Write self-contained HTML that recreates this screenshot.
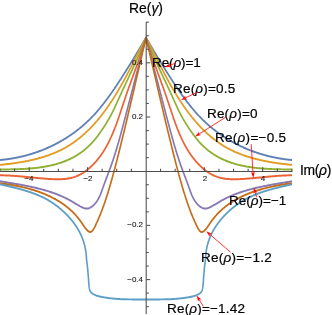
<!DOCTYPE html>
<html><head><meta charset="utf-8"><style>
html,body{margin:0;padding:0;background:#fff;}
body{width:332px;height:315px;position:relative;overflow:hidden;font-family:"Liberation Sans",sans-serif;}
svg{position:absolute;left:0;top:0;}
.lb,.tk,.ax{will-change:transform;}
.lb{position:absolute;font-size:13.5px;line-height:13.5px;color:#000;-webkit-text-stroke:0.2px #000;white-space:nowrap;}
.tk{position:absolute;font-size:8.0px;line-height:8.0px;color:#1c1c1c;-webkit-text-stroke:0.12px #1c1c1c;white-space:nowrap;}
.ax{-webkit-text-stroke:0.2px #000;position:absolute;font-size:13.9px;line-height:13.9px;color:#000;white-space:nowrap;}
</style></head><body>
<svg width="332" height="315" viewBox="0 0 332 315">
<g fill="none" stroke-width="1.62" stroke-linejoin="round" stroke-linecap="butt" transform="scale(1,1.2)">
<path d="M-0.00,133.33 L0.67,133.28 L1.34,133.23 L2.01,133.18 L2.68,133.12 L3.35,133.06 L4.02,133.00 L4.69,132.94 L5.36,132.87 L6.03,132.80 L6.70,132.73 L7.36,132.66 L8.03,132.58 L8.70,132.50 L9.36,132.42 L10.03,132.34 L10.69,132.25 L11.36,132.17 L12.02,132.07 L12.68,131.98 L13.34,131.88 L14.01,131.79 L14.67,131.69 L15.33,131.58 L15.99,131.48 L16.64,131.37 L17.30,131.26 L17.96,131.14 L18.62,131.03 L19.27,130.91 L19.93,130.79 L20.58,130.67 L21.24,130.54 L21.89,130.41 L22.54,130.28 L23.19,130.15 L23.84,130.02 L24.49,129.88 L25.14,129.74 L25.79,129.60 L26.44,129.45 L27.09,129.30 L27.73,129.16 L28.38,129.00 L29.02,128.85 L29.66,128.69 L30.30,128.53 L30.94,128.37 L31.58,128.21 L32.22,128.04 L32.86,127.87 L33.50,127.70 L34.14,127.53 L34.77,127.35 L35.40,127.18 L36.04,127.00 L36.67,126.81 L37.30,126.63 L37.93,126.44 L38.56,126.25 L39.19,126.06 L39.81,125.86 L40.44,125.67 L41.06,125.47 L41.68,125.27 L42.31,125.06 L42.93,124.86 L43.55,124.65 L44.16,124.44 L44.78,124.23 L45.40,124.01 L46.01,123.79 L46.63,123.57 L47.24,123.35 L47.85,123.13 L48.46,122.90 L49.07,122.67 L49.67,122.44 L50.28,122.20 L50.88,121.97 L51.49,121.73 L52.09,121.49 L52.69,121.25 L53.29,121.00 L53.88,120.75 L54.48,120.50 L55.07,120.25 L55.67,120.00 L56.26,119.74 L56.85,119.48 L57.44,119.22 L58.02,118.96 L58.61,118.69 L59.19,118.43 L59.78,118.16 L60.36,117.88 L60.94,117.61 L61.51,117.33 L62.09,117.06 L62.67,116.77 L63.24,116.49 L63.81,116.21 L64.38,115.92 L64.95,115.63 L65.51,115.34 L66.08,115.04 L66.64,114.74 L67.20,114.45 L67.76,114.15 L68.32,113.84 L68.88,113.54 L69.43,113.23 L69.99,112.92 L70.54,112.61 L71.09,112.29 L71.63,111.98 L72.18,111.66 L72.72,111.34 L73.27,111.02 L73.81,110.69 L74.34,110.36 L74.88,110.04 L75.42,109.70 L75.95,109.37 L76.48,109.04 L77.01,108.70 L77.54,108.36 L78.06,108.02 L78.58,107.67 L79.11,107.33 L79.62,106.98 L80.14,106.63 L80.66,106.27 L81.17,105.92 L81.68,105.56 L82.19,105.20 L82.70,104.84 L83.20,104.48 L83.71,104.11 L84.21,103.75 L84.71,103.38 L85.20,103.00 L85.70,102.63 L86.19,102.26 L86.68,101.88 L87.17,101.50 L87.65,101.12 L88.14,100.73 L88.62,100.35 L89.10,99.96 L89.58,99.57 L90.05,99.17 L90.52,98.78 L90.99,98.38 L91.46,97.98 L91.93,97.58 L92.39,97.18 L92.85,96.78 L93.31,96.37 L93.77,95.96 L94.22,95.55 L94.68,95.14 L95.13,94.73 L95.57,94.31 L96.02,93.89 L96.47,93.48 L96.91,93.06 L97.35,92.63 L97.79,92.21 L98.22,91.79 L98.66,91.36 L99.09,90.93 L99.52,90.50 L99.95,90.07 L100.38,89.64 L100.80,89.21 L101.23,88.78 L101.65,88.34 L102.07,87.91 L102.49,87.47 L102.90,87.03 L103.32,86.59 L103.73,86.15 L104.14,85.71 L104.55,85.27 L104.96,84.83 L105.37,84.38 L105.77,83.94 L106.18,83.49 L106.58,83.04 L106.98,82.60 L107.38,82.15 L107.78,81.70 L108.17,81.25 L108.57,80.80 L108.96,80.35 L109.35,79.90 L109.74,79.44 L110.13,78.99 L110.52,78.54 L110.90,78.08 L111.29,77.63 L111.67,77.17 L112.06,76.71 L112.44,76.26 L112.82,75.80 L113.20,75.34 L113.58,74.88 L113.95,74.42 L114.33,73.97 L114.70,73.50 L115.08,73.04 L115.45,72.58 L115.82,72.12 L116.19,71.66 L116.56,71.20 L116.93,70.73 L117.30,70.27 L117.67,69.81 L118.04,69.34 L118.40,68.88 L118.77,68.41 L119.13,67.95 L119.50,67.48 L119.86,67.02 L120.22,66.55 L120.58,66.08 L120.95,65.62 L121.31,65.15 L121.67,64.68 L122.03,64.22 L122.39,63.75 L122.74,63.28 L123.10,62.81 L123.46,62.34 L123.82,61.87 L124.17,61.40 L124.53,60.94 L124.89,60.47 L125.24,60.00 L125.60,59.53 L125.95,59.06 L126.30,58.59 L126.66,58.11 L127.01,57.64 L127.36,57.17 L127.72,56.70 L128.07,56.23 L128.42,55.76 L128.77,55.29 L129.12,54.81 L129.47,54.34 L129.82,53.87 L130.17,53.39 L130.52,52.92 L130.87,52.45 L131.22,51.97 L131.56,51.50 L131.91,51.03 L132.26,50.55 L132.61,50.08 L132.95,49.60 L133.30,49.13 L133.65,48.65 L133.99,48.18 L134.34,47.70 L134.69,47.22 L135.03,46.75 L135.38,46.27 L135.72,45.80 L136.07,45.32 L136.41,44.84 L136.75,44.37 L137.10,43.89 L137.44,43.41 L137.79,42.93 L138.13,42.46 L138.47,41.98 L138.82,41.50 L139.16,41.02 L139.50,40.54 L139.85,40.06 L140.19,39.59 L140.53,39.11 L140.87,38.63 L141.21,38.15 L141.56,37.67 L141.90,37.19 L142.24,36.71 L142.58,36.23 L142.93,35.75 L143.27,35.27 L143.61,34.79 L143.95,34.31 L144.29,33.82 L144.63,33.34 L144.98,32.86 L145.32,32.38 L145.66,31.90 L146.00,31.42 L146.34,31.90 L146.68,32.38 L147.02,32.86 L147.37,33.34 L147.71,33.82 L148.05,34.31 L148.39,34.79 L148.73,35.27 L149.07,35.75 L149.42,36.23 L149.76,36.71 L150.10,37.19 L150.44,37.67 L150.79,38.15 L151.13,38.63 L151.47,39.11 L151.81,39.59 L152.15,40.06 L152.50,40.54 L152.84,41.02 L153.18,41.50 L153.53,41.98 L153.87,42.46 L154.21,42.93 L154.56,43.41 L154.90,43.89 L155.25,44.37 L155.59,44.84 L155.93,45.32 L156.28,45.80 L156.62,46.27 L156.97,46.75 L157.31,47.22 L157.66,47.70 L158.01,48.18 L158.35,48.65 L158.70,49.13 L159.05,49.60 L159.39,50.08 L159.74,50.55 L160.09,51.03 L160.44,51.50 L160.78,51.97 L161.13,52.45 L161.48,52.92 L161.83,53.39 L162.18,53.87 L162.53,54.34 L162.88,54.81 L163.23,55.29 L163.58,55.76 L163.93,56.23 L164.28,56.70 L164.64,57.17 L164.99,57.64 L165.34,58.11 L165.70,58.59 L166.05,59.06 L166.40,59.53 L166.76,60.00 L167.11,60.47 L167.47,60.94 L167.83,61.40 L168.18,61.87 L168.54,62.34 L168.90,62.81 L169.26,63.28 L169.61,63.75 L169.97,64.22 L170.33,64.68 L170.69,65.15 L171.05,65.62 L171.42,66.08 L171.78,66.55 L172.14,67.02 L172.50,67.48 L172.87,67.95 L173.23,68.41 L173.60,68.88 L173.96,69.34 L174.33,69.81 L174.70,70.27 L175.07,70.73 L175.44,71.20 L175.81,71.66 L176.18,72.12 L176.55,72.58 L176.92,73.04 L177.30,73.50 L177.67,73.97 L178.05,74.42 L178.42,74.88 L178.80,75.34 L179.18,75.80 L179.56,76.26 L179.94,76.71 L180.33,77.17 L180.71,77.63 L181.10,78.08 L181.48,78.54 L181.87,78.99 L182.26,79.44 L182.65,79.90 L183.04,80.35 L183.43,80.80 L183.83,81.25 L184.22,81.70 L184.62,82.15 L185.02,82.60 L185.42,83.04 L185.82,83.49 L186.23,83.94 L186.63,84.38 L187.04,84.83 L187.45,85.27 L187.86,85.71 L188.27,86.15 L188.68,86.59 L189.10,87.03 L189.51,87.47 L189.93,87.91 L190.35,88.34 L190.77,88.78 L191.20,89.21 L191.62,89.64 L192.05,90.07 L192.48,90.50 L192.91,90.93 L193.34,91.36 L193.78,91.79 L194.21,92.21 L194.65,92.63 L195.09,93.06 L195.53,93.48 L195.98,93.89 L196.43,94.31 L196.87,94.73 L197.32,95.14 L197.78,95.55 L198.23,95.96 L198.69,96.37 L199.15,96.78 L199.61,97.18 L200.07,97.58 L200.54,97.98 L201.01,98.38 L201.48,98.78 L201.95,99.17 L202.42,99.57 L202.90,99.96 L203.38,100.35 L203.86,100.73 L204.35,101.12 L204.83,101.50 L205.32,101.88 L205.81,102.26 L206.30,102.63 L206.80,103.00 L207.29,103.38 L207.79,103.75 L208.29,104.11 L208.80,104.48 L209.30,104.84 L209.81,105.20 L210.32,105.56 L210.83,105.92 L211.34,106.27 L211.86,106.63 L212.38,106.98 L212.89,107.33 L213.42,107.67 L213.94,108.02 L214.46,108.36 L214.99,108.70 L215.52,109.04 L216.05,109.37 L216.58,109.70 L217.12,110.04 L217.66,110.36 L218.19,110.69 L218.73,111.02 L219.28,111.34 L219.82,111.66 L220.37,111.98 L220.91,112.29 L221.46,112.61 L222.01,112.92 L222.57,113.23 L223.12,113.54 L223.68,113.84 L224.24,114.15 L224.80,114.45 L225.36,114.74 L225.92,115.04 L226.49,115.34 L227.05,115.63 L227.62,115.92 L228.19,116.21 L228.76,116.49 L229.33,116.77 L229.91,117.06 L230.49,117.33 L231.06,117.61 L231.64,117.88 L232.22,118.16 L232.81,118.43 L233.39,118.69 L233.98,118.96 L234.56,119.22 L235.15,119.48 L235.74,119.74 L236.33,120.00 L236.93,120.25 L237.52,120.50 L238.12,120.75 L238.71,121.00 L239.31,121.25 L239.91,121.49 L240.51,121.73 L241.12,121.97 L241.72,122.20 L242.33,122.44 L242.93,122.67 L243.54,122.90 L244.15,123.13 L244.76,123.35 L245.37,123.57 L245.99,123.79 L246.60,124.01 L247.22,124.23 L247.84,124.44 L248.45,124.65 L249.07,124.86 L249.69,125.06 L250.32,125.27 L250.94,125.47 L251.56,125.67 L252.19,125.86 L252.81,126.06 L253.44,126.25 L254.07,126.44 L254.70,126.63 L255.33,126.81 L255.96,127.00 L256.60,127.18 L257.23,127.35 L257.86,127.53 L258.50,127.70 L259.14,127.87 L259.78,128.04 L260.42,128.21 L261.06,128.37 L261.70,128.53 L262.34,128.69 L262.98,128.85 L263.62,129.00 L264.27,129.16 L264.91,129.30 L265.56,129.45 L266.21,129.60 L266.86,129.74 L267.51,129.88 L268.16,130.02 L268.81,130.15 L269.46,130.28 L270.11,130.41 L270.76,130.54 L271.42,130.67 L272.07,130.79 L272.73,130.91 L273.38,131.03 L274.04,131.14 L274.70,131.26 L275.36,131.37 L276.01,131.48 L276.67,131.58 L277.33,131.69 L277.99,131.79 L278.66,131.88 L279.32,131.98 L279.98,132.07 L280.64,132.17 L281.31,132.25 L281.97,132.34 L282.64,132.42 L283.30,132.50 L283.97,132.58 L284.64,132.66 L285.30,132.73 L285.97,132.80 L286.64,132.87 L287.31,132.94 L287.98,133.00 L288.65,133.06 L289.32,133.12 L289.99,133.18 L290.66,133.23 L291.33,133.28 L292.00,133.33" stroke="#5e81b5"/>
<path d="M-0.00,137.42 L0.67,137.36 L1.35,137.30 L2.02,137.25 L2.70,137.19 L3.38,137.13 L4.05,137.07 L4.73,137.00 L5.41,136.94 L6.09,136.88 L6.77,136.81 L7.45,136.74 L8.14,136.68 L8.82,136.61 L9.50,136.54 L10.19,136.46 L10.87,136.39 L11.55,136.32 L12.24,136.24 L12.92,136.16 L13.61,136.08 L14.30,136.00 L14.98,135.92 L15.67,135.84 L16.36,135.75 L17.04,135.66 L17.73,135.58 L18.42,135.49 L19.10,135.39 L19.79,135.30 L20.48,135.20 L21.16,135.11 L21.85,135.01 L22.54,134.91 L23.22,134.81 L23.91,134.70 L24.60,134.59 L25.28,134.49 L25.97,134.38 L26.65,134.26 L27.34,134.15 L28.02,134.03 L28.71,133.91 L29.39,133.79 L30.07,133.67 L30.75,133.55 L31.44,133.42 L32.12,133.29 L32.80,133.16 L33.48,133.03 L34.16,132.89 L34.83,132.75 L35.51,132.61 L36.19,132.47 L36.86,132.32 L37.54,132.18 L38.21,132.03 L38.88,131.87 L39.56,131.72 L40.23,131.56 L40.90,131.40 L41.56,131.24 L42.23,131.07 L42.90,130.90 L43.56,130.73 L44.22,130.56 L44.89,130.38 L45.55,130.21 L46.21,130.02 L46.86,129.84 L47.52,129.65 L48.18,129.46 L48.83,129.27 L49.48,129.07 L50.13,128.87 L50.78,128.67 L51.43,128.47 L52.07,128.26 L52.72,128.05 L53.36,127.84 L54.00,127.62 L54.63,127.40 L55.27,127.17 L55.90,126.95 L56.54,126.72 L57.17,126.49 L57.80,126.25 L58.42,126.01 L59.04,125.77 L59.67,125.52 L60.29,125.27 L60.90,125.02 L61.52,124.76 L62.13,124.50 L62.74,124.24 L63.35,123.97 L63.96,123.70 L64.56,123.43 L65.16,123.15 L65.76,122.87 L66.35,122.58 L66.95,122.30 L67.54,122.00 L68.13,121.71 L68.71,121.41 L69.29,121.11 L69.88,120.80 L70.45,120.49 L71.03,120.18 L71.60,119.86 L72.17,119.55 L72.74,119.22 L73.30,118.90 L73.87,118.57 L74.43,118.24 L74.99,117.90 L75.54,117.56 L76.09,117.22 L76.64,116.88 L77.19,116.53 L77.74,116.18 L78.28,115.83 L78.82,115.48 L79.35,115.12 L79.89,114.76 L80.42,114.39 L80.95,114.03 L81.48,113.66 L82.00,113.29 L82.53,112.91 L83.05,112.54 L83.56,112.16 L84.08,111.78 L84.59,111.39 L85.10,111.01 L85.60,110.62 L86.11,110.23 L86.61,109.84 L87.11,109.44 L87.61,109.04 L88.10,108.64 L88.59,108.24 L89.08,107.84 L89.57,107.44 L90.05,107.03 L90.53,106.62 L91.01,106.21 L91.49,105.79 L91.96,105.38 L92.43,104.96 L92.90,104.54 L93.37,104.12 L93.83,103.70 L94.29,103.28 L94.75,102.85 L95.21,102.43 L95.67,102.00 L96.12,101.57 L96.57,101.13 L97.02,100.70 L97.46,100.26 L97.90,99.83 L98.34,99.39 L98.78,98.95 L99.22,98.51 L99.65,98.06 L100.09,97.62 L100.52,97.17 L100.94,96.72 L101.37,96.27 L101.79,95.82 L102.21,95.37 L102.63,94.91 L103.05,94.46 L103.47,94.00 L103.88,93.54 L104.29,93.08 L104.70,92.62 L105.11,92.16 L105.51,91.70 L105.92,91.23 L106.32,90.77 L106.72,90.30 L107.12,89.83 L107.51,89.36 L107.91,88.89 L108.30,88.42 L108.69,87.94 L109.08,87.47 L109.47,86.99 L109.86,86.51 L110.24,86.04 L110.62,85.56 L111.00,85.08 L111.38,84.59 L111.76,84.11 L112.14,83.63 L112.51,83.14 L112.88,82.66 L113.26,82.17 L113.63,81.68 L113.99,81.20 L114.36,80.71 L114.73,80.22 L115.09,79.72 L115.45,79.23 L115.81,78.74 L116.17,78.25 L116.53,77.75 L116.89,77.26 L117.25,76.76 L117.60,76.26 L117.95,75.76 L118.31,75.27 L118.66,74.77 L119.01,74.27 L119.36,73.76 L119.70,73.26 L120.05,72.76 L120.39,72.26 L120.74,71.75 L121.08,71.25 L121.42,70.75 L121.76,70.24 L122.10,69.74 L122.44,69.23 L122.78,68.72 L123.12,68.21 L123.45,67.71 L123.79,67.20 L124.12,66.69 L124.45,66.18 L124.78,65.67 L125.12,65.16 L125.45,64.65 L125.77,64.14 L126.10,63.63 L126.43,63.12 L126.76,62.60 L127.08,62.09 L127.41,61.58 L127.73,61.07 L128.06,60.55 L128.38,60.04 L128.70,59.53 L129.03,59.01 L129.35,58.50 L129.67,57.98 L129.99,57.47 L130.31,56.96 L130.63,56.44 L130.95,55.93 L131.27,55.41 L131.58,54.90 L131.90,54.38 L132.22,53.87 L132.53,53.35 L132.85,52.84 L133.16,52.32 L133.48,51.81 L133.79,51.29 L134.11,50.78 L134.42,50.26 L134.74,49.75 L135.05,49.23 L135.36,48.72 L135.68,48.20 L135.99,47.69 L136.30,47.17 L136.61,46.66 L136.93,46.15 L137.24,45.63 L137.55,45.12 L137.86,44.61 L138.17,44.09 L138.49,43.58 L138.80,43.07 L139.11,42.56 L139.42,42.05 L139.73,41.54 L140.05,41.03 L140.36,40.52 L140.67,40.01 L140.98,39.50 L141.29,38.99 L141.60,38.48 L141.92,37.97 L142.23,37.46 L142.54,36.96 L142.86,36.45 L143.17,35.94 L143.48,35.44 L143.80,34.93 L144.11,34.43 L144.42,33.93 L144.74,33.42 L145.05,32.92 L145.37,32.42 L145.68,31.92 L146.00,31.42 L146.32,31.92 L146.63,32.42 L146.95,32.92 L147.26,33.42 L147.58,33.93 L147.89,34.43 L148.20,34.93 L148.52,35.44 L148.83,35.94 L149.14,36.45 L149.46,36.96 L149.77,37.46 L150.08,37.97 L150.40,38.48 L150.71,38.99 L151.02,39.50 L151.33,40.01 L151.64,40.52 L151.95,41.03 L152.27,41.54 L152.58,42.05 L152.89,42.56 L153.20,43.07 L153.51,43.58 L153.83,44.09 L154.14,44.61 L154.45,45.12 L154.76,45.63 L155.07,46.15 L155.39,46.66 L155.70,47.17 L156.01,47.69 L156.32,48.20 L156.64,48.72 L156.95,49.23 L157.26,49.75 L157.58,50.26 L157.89,50.78 L158.21,51.29 L158.52,51.81 L158.84,52.32 L159.15,52.84 L159.47,53.35 L159.78,53.87 L160.10,54.38 L160.42,54.90 L160.73,55.41 L161.05,55.93 L161.37,56.44 L161.69,56.96 L162.01,57.47 L162.33,57.98 L162.65,58.50 L162.97,59.01 L163.30,59.53 L163.62,60.04 L163.94,60.55 L164.27,61.07 L164.59,61.58 L164.92,62.09 L165.24,62.60 L165.57,63.12 L165.90,63.63 L166.23,64.14 L166.55,64.65 L166.88,65.16 L167.22,65.67 L167.55,66.18 L167.88,66.69 L168.21,67.20 L168.55,67.71 L168.88,68.21 L169.22,68.72 L169.56,69.23 L169.90,69.74 L170.24,70.24 L170.58,70.75 L170.92,71.25 L171.26,71.75 L171.61,72.26 L171.95,72.76 L172.30,73.26 L172.64,73.76 L172.99,74.27 L173.34,74.77 L173.69,75.27 L174.05,75.76 L174.40,76.26 L174.75,76.76 L175.11,77.26 L175.47,77.75 L175.83,78.25 L176.19,78.74 L176.55,79.23 L176.91,79.72 L177.27,80.22 L177.64,80.71 L178.01,81.20 L178.37,81.68 L178.74,82.17 L179.12,82.66 L179.49,83.14 L179.86,83.63 L180.24,84.11 L180.62,84.59 L181.00,85.08 L181.38,85.56 L181.76,86.04 L182.14,86.51 L182.53,86.99 L182.92,87.47 L183.31,87.94 L183.70,88.42 L184.09,88.89 L184.49,89.36 L184.88,89.83 L185.28,90.30 L185.68,90.77 L186.08,91.23 L186.49,91.70 L186.89,92.16 L187.30,92.62 L187.71,93.08 L188.12,93.54 L188.53,94.00 L188.95,94.46 L189.37,94.91 L189.79,95.37 L190.21,95.82 L190.63,96.27 L191.06,96.72 L191.48,97.17 L191.91,97.62 L192.35,98.06 L192.78,98.51 L193.22,98.95 L193.66,99.39 L194.10,99.83 L194.54,100.26 L194.98,100.70 L195.43,101.13 L195.88,101.57 L196.33,102.00 L196.79,102.43 L197.25,102.85 L197.71,103.28 L198.17,103.70 L198.63,104.12 L199.10,104.54 L199.57,104.96 L200.04,105.38 L200.51,105.79 L200.99,106.21 L201.47,106.62 L201.95,107.03 L202.43,107.44 L202.92,107.84 L203.41,108.24 L203.90,108.64 L204.39,109.04 L204.89,109.44 L205.39,109.84 L205.89,110.23 L206.40,110.62 L206.90,111.01 L207.41,111.39 L207.92,111.78 L208.44,112.16 L208.95,112.54 L209.47,112.91 L210.00,113.29 L210.52,113.66 L211.05,114.03 L211.58,114.39 L212.11,114.76 L212.65,115.12 L213.18,115.48 L213.72,115.83 L214.26,116.18 L214.81,116.53 L215.36,116.88 L215.91,117.22 L216.46,117.56 L217.01,117.90 L217.57,118.24 L218.13,118.57 L218.70,118.90 L219.26,119.22 L219.83,119.55 L220.40,119.86 L220.97,120.18 L221.55,120.49 L222.12,120.80 L222.71,121.11 L223.29,121.41 L223.87,121.71 L224.46,122.00 L225.05,122.30 L225.65,122.58 L226.24,122.87 L226.84,123.15 L227.44,123.43 L228.04,123.70 L228.65,123.97 L229.26,124.24 L229.87,124.50 L230.48,124.76 L231.10,125.02 L231.71,125.27 L232.33,125.52 L232.96,125.77 L233.58,126.01 L234.20,126.25 L234.83,126.49 L235.46,126.72 L236.10,126.95 L236.73,127.17 L237.37,127.40 L238.00,127.62 L238.64,127.84 L239.28,128.05 L239.93,128.26 L240.57,128.47 L241.22,128.67 L241.87,128.87 L242.52,129.07 L243.17,129.27 L243.82,129.46 L244.48,129.65 L245.14,129.84 L245.79,130.02 L246.45,130.21 L247.11,130.38 L247.78,130.56 L248.44,130.73 L249.10,130.90 L249.77,131.07 L250.44,131.24 L251.10,131.40 L251.77,131.56 L252.44,131.72 L253.12,131.87 L253.79,132.03 L254.46,132.18 L255.14,132.32 L255.81,132.47 L256.49,132.61 L257.17,132.75 L257.84,132.89 L258.52,133.03 L259.20,133.16 L259.88,133.29 L260.56,133.42 L261.25,133.55 L261.93,133.67 L262.61,133.79 L263.29,133.91 L263.98,134.03 L264.66,134.15 L265.35,134.26 L266.03,134.38 L266.72,134.49 L267.40,134.59 L268.09,134.70 L268.78,134.81 L269.46,134.91 L270.15,135.01 L270.84,135.11 L271.52,135.20 L272.21,135.30 L272.90,135.39 L273.58,135.49 L274.27,135.58 L274.96,135.66 L275.64,135.75 L276.33,135.84 L277.02,135.92 L277.70,136.00 L278.39,136.08 L279.08,136.16 L279.76,136.24 L280.45,136.32 L281.13,136.39 L281.81,136.46 L282.50,136.54 L283.18,136.61 L283.86,136.68 L284.55,136.74 L285.23,136.81 L285.91,136.88 L286.59,136.94 L287.27,137.00 L287.95,137.07 L288.62,137.13 L289.30,137.19 L289.98,137.25 L290.65,137.30 L291.33,137.36 L292.00,137.42" stroke="#e19c24"/>
<path d="M0.00,141.25 L0.71,141.24 L1.41,141.24 L2.12,141.23 L2.83,141.23 L3.55,141.22 L4.26,141.21 L4.97,141.21 L5.69,141.20 L6.41,141.19 L7.13,141.19 L7.85,141.18 L8.57,141.17 L9.29,141.16 L10.01,141.15 L10.74,141.14 L11.46,141.12 L12.19,141.11 L12.92,141.10 L13.65,141.08 L14.37,141.07 L15.10,141.05 L15.83,141.03 L16.57,141.02 L17.30,141.00 L18.03,140.97 L18.76,140.95 L19.50,140.93 L20.23,140.90 L20.96,140.88 L21.70,140.85 L22.43,140.82 L23.17,140.79 L23.90,140.75 L24.64,140.72 L25.37,140.68 L26.11,140.64 L26.84,140.60 L27.58,140.56 L28.32,140.52 L29.05,140.47 L29.79,140.42 L30.52,140.37 L31.26,140.32 L31.99,140.26 L32.73,140.21 L33.46,140.15 L34.19,140.08 L34.93,140.02 L35.66,139.95 L36.39,139.88 L37.12,139.81 L37.85,139.74 L38.58,139.66 L39.31,139.58 L40.04,139.49 L40.77,139.41 L41.50,139.32 L42.22,139.23 L42.95,139.13 L43.67,139.03 L44.40,138.93 L45.12,138.83 L45.84,138.72 L46.56,138.61 L47.28,138.49 L47.99,138.37 L48.71,138.25 L49.42,138.13 L50.14,138.00 L50.85,137.87 L51.56,137.73 L52.27,137.59 L52.98,137.45 L53.68,137.30 L54.38,137.15 L55.09,136.99 L55.79,136.84 L56.49,136.67 L57.18,136.51 L57.88,136.33 L58.57,136.16 L59.26,135.98 L59.95,135.79 L60.64,135.61 L61.32,135.41 L62.00,135.22 L62.68,135.01 L63.36,134.81 L64.04,134.60 L64.71,134.38 L65.38,134.16 L66.05,133.93 L66.72,133.70 L67.38,133.47 L68.04,133.23 L68.70,132.98 L69.36,132.73 L70.01,132.48 L70.66,132.22 L71.31,131.95 L71.95,131.68 L72.59,131.41 L73.23,131.12 L73.87,130.84 L74.50,130.55 L75.13,130.25 L75.76,129.94 L76.38,129.64 L77.00,129.32 L77.62,129.00 L78.23,128.68 L78.84,128.35 L79.45,128.01 L80.05,127.67 L80.65,127.32 L81.24,126.97 L81.83,126.61 L82.42,126.25 L83.00,125.89 L83.57,125.51 L84.15,125.14 L84.71,124.76 L85.27,124.37 L85.83,123.98 L86.38,123.58 L86.93,123.18 L87.47,122.78 L88.01,122.37 L88.54,121.95 L89.06,121.53 L89.58,121.11 L90.10,120.68 L90.61,120.25 L91.11,119.81 L91.60,119.37 L92.09,118.93 L92.58,118.48 L93.06,118.03 L93.53,117.57 L94.00,117.11 L94.47,116.65 L94.93,116.18 L95.39,115.71 L95.84,115.24 L96.29,114.76 L96.73,114.29 L97.17,113.81 L97.61,113.33 L98.04,112.84 L98.48,112.36 L98.90,111.87 L99.33,111.38 L99.75,110.89 L100.18,110.39 L100.59,109.90 L101.01,109.40 L101.43,108.91 L101.84,108.41 L102.25,107.91 L102.65,107.41 L103.06,106.90 L103.46,106.40 L103.86,105.90 L104.26,105.39 L104.65,104.88 L105.04,104.37 L105.43,103.86 L105.82,103.35 L106.20,102.84 L106.58,102.32 L106.96,101.80 L107.33,101.29 L107.70,100.77 L108.07,100.25 L108.44,99.73 L108.80,99.20 L109.16,98.68 L109.51,98.15 L109.87,97.62 L110.22,97.09 L110.56,96.56 L110.90,96.03 L111.24,95.50 L111.58,94.96 L111.91,94.43 L112.24,93.89 L112.57,93.35 L112.89,92.81 L113.21,92.27 L113.53,91.72 L113.85,91.18 L114.16,90.63 L114.47,90.08 L114.78,89.53 L115.08,88.98 L115.39,88.43 L115.69,87.88 L115.99,87.33 L116.29,86.78 L116.59,86.23 L116.89,85.67 L117.18,85.12 L117.48,84.57 L117.78,84.01 L118.08,83.46 L118.37,82.91 L118.67,82.35 L118.97,81.80 L119.27,81.25 L119.57,80.69 L119.87,80.14 L120.17,79.59 L120.47,79.04 L120.77,78.48 L121.08,77.93 L121.38,77.38 L121.68,76.83 L121.99,76.28 L122.30,75.73 L122.60,75.18 L122.91,74.63 L123.21,74.08 L123.52,73.53 L123.83,72.98 L124.14,72.43 L124.45,71.88 L124.76,71.33 L125.06,70.78 L125.37,70.23 L125.68,69.68 L125.99,69.13 L126.30,68.58 L126.61,68.03 L126.92,67.48 L127.23,66.93 L127.54,66.39 L127.85,65.84 L128.17,65.29 L128.48,64.74 L128.79,64.19 L129.10,63.64 L129.41,63.09 L129.72,62.54 L130.03,61.99 L130.34,61.44 L130.65,60.90 L130.95,60.35 L131.26,59.80 L131.57,59.25 L131.88,58.70 L132.19,58.15 L132.50,57.60 L132.80,57.05 L133.11,56.50 L133.42,55.95 L133.72,55.40 L134.03,54.85 L134.33,54.30 L134.64,53.74 L134.94,53.19 L135.24,52.64 L135.54,52.09 L135.85,51.54 L136.15,50.99 L136.45,50.43 L136.74,49.88 L137.04,49.33 L137.34,48.77 L137.64,48.22 L137.93,47.67 L138.23,47.11 L138.52,46.56 L138.82,46.00 L139.11,45.45 L139.40,44.89 L139.69,44.33 L139.98,43.78 L140.26,43.22 L140.55,42.66 L140.84,42.11 L141.12,41.55 L141.40,40.99 L141.69,40.43 L141.97,39.87 L142.25,39.31 L142.52,38.75 L142.80,38.19 L143.07,37.63 L143.35,37.07 L143.62,36.50 L143.89,35.94 L144.16,35.38 L144.43,34.81 L144.69,34.25 L144.96,33.68 L145.22,33.12 L145.48,32.55 L145.74,31.98 L146.00,31.42 L146.26,31.98 L146.52,32.55 L146.78,33.12 L147.04,33.68 L147.31,34.25 L147.57,34.81 L147.84,35.38 L148.11,35.94 L148.38,36.50 L148.65,37.07 L148.93,37.63 L149.20,38.19 L149.48,38.75 L149.75,39.31 L150.03,39.87 L150.31,40.43 L150.60,40.99 L150.88,41.55 L151.16,42.11 L151.45,42.66 L151.74,43.22 L152.02,43.78 L152.31,44.33 L152.60,44.89 L152.89,45.45 L153.18,46.00 L153.48,46.56 L153.77,47.11 L154.07,47.67 L154.36,48.22 L154.66,48.77 L154.96,49.33 L155.26,49.88 L155.55,50.43 L155.85,50.99 L156.15,51.54 L156.46,52.09 L156.76,52.64 L157.06,53.19 L157.36,53.74 L157.67,54.30 L157.97,54.85 L158.28,55.40 L158.58,55.95 L158.89,56.50 L159.20,57.05 L159.50,57.60 L159.81,58.15 L160.12,58.70 L160.43,59.25 L160.74,59.80 L161.05,60.35 L161.35,60.90 L161.66,61.44 L161.97,61.99 L162.28,62.54 L162.59,63.09 L162.90,63.64 L163.21,64.19 L163.52,64.74 L163.83,65.29 L164.15,65.84 L164.46,66.39 L164.77,66.93 L165.08,67.48 L165.39,68.03 L165.70,68.58 L166.01,69.13 L166.32,69.68 L166.63,70.23 L166.94,70.78 L167.24,71.33 L167.55,71.88 L167.86,72.43 L168.17,72.98 L168.48,73.53 L168.79,74.08 L169.09,74.63 L169.40,75.18 L169.70,75.73 L170.01,76.28 L170.32,76.83 L170.62,77.38 L170.92,77.93 L171.23,78.48 L171.53,79.04 L171.83,79.59 L172.13,80.14 L172.43,80.69 L172.73,81.25 L173.03,81.80 L173.33,82.35 L173.63,82.91 L173.92,83.46 L174.22,84.01 L174.52,84.57 L174.82,85.12 L175.11,85.67 L175.41,86.23 L175.71,86.78 L176.01,87.33 L176.31,87.88 L176.61,88.43 L176.92,88.98 L177.22,89.53 L177.53,90.08 L177.84,90.63 L178.15,91.18 L178.47,91.72 L178.79,92.27 L179.11,92.81 L179.43,93.35 L179.76,93.89 L180.09,94.43 L180.42,94.96 L180.76,95.50 L181.10,96.03 L181.44,96.56 L181.78,97.09 L182.13,97.62 L182.49,98.15 L182.84,98.68 L183.20,99.20 L183.56,99.73 L183.93,100.25 L184.30,100.77 L184.67,101.29 L185.04,101.80 L185.42,102.32 L185.80,102.84 L186.18,103.35 L186.57,103.86 L186.96,104.37 L187.35,104.88 L187.74,105.39 L188.14,105.90 L188.54,106.40 L188.94,106.90 L189.35,107.41 L189.75,107.91 L190.16,108.41 L190.57,108.91 L190.99,109.40 L191.41,109.90 L191.82,110.39 L192.25,110.89 L192.67,111.38 L193.10,111.87 L193.52,112.36 L193.96,112.84 L194.39,113.33 L194.83,113.81 L195.27,114.29 L195.71,114.76 L196.16,115.24 L196.61,115.71 L197.07,116.18 L197.53,116.65 L198.00,117.11 L198.47,117.57 L198.94,118.03 L199.42,118.48 L199.91,118.93 L200.40,119.37 L200.89,119.81 L201.39,120.25 L201.90,120.68 L202.42,121.11 L202.94,121.53 L203.46,121.95 L203.99,122.37 L204.53,122.78 L205.07,123.18 L205.62,123.58 L206.17,123.98 L206.73,124.37 L207.29,124.76 L207.85,125.14 L208.43,125.51 L209.00,125.89 L209.58,126.25 L210.17,126.61 L210.76,126.97 L211.35,127.32 L211.95,127.67 L212.55,128.01 L213.16,128.35 L213.77,128.68 L214.38,129.00 L215.00,129.32 L215.62,129.64 L216.24,129.94 L216.87,130.25 L217.50,130.55 L218.13,130.84 L218.77,131.12 L219.41,131.41 L220.05,131.68 L220.69,131.95 L221.34,132.22 L221.99,132.48 L222.64,132.73 L223.30,132.98 L223.96,133.23 L224.62,133.47 L225.28,133.70 L225.95,133.93 L226.62,134.16 L227.29,134.38 L227.96,134.60 L228.64,134.81 L229.32,135.01 L230.00,135.22 L230.68,135.41 L231.36,135.61 L232.05,135.79 L232.74,135.98 L233.43,136.16 L234.12,136.33 L234.82,136.51 L235.51,136.67 L236.21,136.84 L236.91,136.99 L237.62,137.15 L238.32,137.30 L239.02,137.45 L239.73,137.59 L240.44,137.73 L241.15,137.87 L241.86,138.00 L242.58,138.13 L243.29,138.25 L244.01,138.37 L244.72,138.49 L245.44,138.61 L246.16,138.72 L246.88,138.83 L247.60,138.93 L248.33,139.03 L249.05,139.13 L249.78,139.23 L250.50,139.32 L251.23,139.41 L251.96,139.49 L252.69,139.58 L253.42,139.66 L254.15,139.74 L254.88,139.81 L255.61,139.88 L256.34,139.95 L257.07,140.02 L257.81,140.08 L258.54,140.15 L259.27,140.21 L260.01,140.26 L260.74,140.32 L261.48,140.37 L262.21,140.42 L262.95,140.47 L263.68,140.52 L264.42,140.56 L265.16,140.60 L265.89,140.64 L266.63,140.68 L267.36,140.72 L268.10,140.75 L268.83,140.79 L269.57,140.82 L270.30,140.85 L271.04,140.88 L271.77,140.90 L272.50,140.93 L273.24,140.95 L273.97,140.97 L274.70,141.00 L275.43,141.02 L276.17,141.03 L276.90,141.05 L277.63,141.07 L278.35,141.08 L279.08,141.10 L279.81,141.11 L280.54,141.12 L281.26,141.14 L281.99,141.15 L282.71,141.16 L283.43,141.17 L284.15,141.18 L284.87,141.19 L285.59,141.19 L286.31,141.20 L287.03,141.21 L287.74,141.21 L288.45,141.22 L289.17,141.23 L289.88,141.23 L290.59,141.24 L291.29,141.24 L292.00,141.25" stroke="#8fb032"/>
<path d="M0.00,146.08 L0.79,146.09 L1.58,146.09 L2.37,146.10 L3.16,146.11 L3.95,146.13 L4.74,146.15 L5.53,146.17 L6.32,146.19 L7.11,146.22 L7.89,146.25 L8.68,146.28 L9.47,146.31 L10.25,146.35 L11.04,146.38 L11.82,146.42 L12.60,146.47 L13.39,146.51 L14.17,146.56 L14.95,146.60 L15.74,146.65 L16.52,146.70 L17.30,146.76 L18.09,146.81 L18.87,146.87 L19.65,146.92 L20.43,146.98 L21.22,147.04 L22.00,147.10 L22.78,147.16 L23.56,147.22 L24.34,147.28 L25.13,147.35 L25.91,147.41 L26.69,147.47 L27.48,147.54 L28.26,147.60 L29.04,147.67 L29.83,147.73 L30.61,147.80 L31.39,147.86 L32.18,147.93 L32.96,147.99 L33.75,148.05 L34.53,148.12 L35.32,148.18 L36.11,148.24 L36.89,148.31 L37.68,148.37 L38.47,148.43 L39.26,148.49 L40.05,148.55 L40.84,148.60 L41.63,148.66 L42.42,148.72 L43.22,148.77 L44.01,148.82 L44.80,148.87 L45.60,148.92 L46.39,148.97 L47.19,149.02 L47.99,149.06 L48.79,149.10 L49.59,149.14 L50.39,149.18 L51.19,149.22 L51.99,149.25 L52.79,149.28 L53.59,149.31 L54.40,149.33 L55.20,149.35 L56.00,149.36 L56.80,149.37 L57.61,149.38 L58.41,149.37 L59.21,149.37 L60.00,149.35 L60.80,149.33 L61.59,149.31 L62.39,149.27 L63.18,149.23 L63.97,149.18 L64.75,149.12 L65.54,149.05 L66.32,148.98 L67.09,148.89 L67.87,148.79 L68.64,148.69 L69.40,148.57 L70.16,148.44 L70.92,148.30 L71.68,148.15 L72.43,147.99 L73.17,147.82 L73.91,147.63 L74.64,147.43 L75.37,147.21 L76.10,146.99 L76.81,146.75 L77.53,146.49 L78.23,146.23 L78.93,145.95 L79.63,145.66 L80.32,145.36 L81.00,145.04 L81.68,144.72 L82.35,144.38 L83.01,144.04 L83.67,143.68 L84.33,143.32 L84.97,142.95 L85.61,142.57 L86.25,142.17 L86.87,141.78 L87.50,141.37 L88.11,140.95 L88.72,140.53 L89.32,140.10 L89.91,139.67 L90.50,139.23 L91.08,138.78 L91.66,138.32 L92.22,137.87 L92.78,137.40 L93.34,136.93 L93.88,136.46 L94.42,135.98 L94.95,135.50 L95.48,135.02 L96.00,134.53 L96.51,134.03 L97.01,133.54 L97.51,133.04 L98.00,132.53 L98.49,132.02 L98.97,131.51 L99.44,130.99 L99.91,130.47 L100.37,129.95 L100.83,129.42 L101.27,128.89 L101.72,128.36 L102.16,127.82 L102.59,127.28 L103.02,126.73 L103.44,126.19 L103.85,125.64 L104.26,125.08 L104.67,124.53 L105.07,123.97 L105.47,123.41 L105.86,122.84 L106.24,122.27 L106.62,121.70 L107.00,121.13 L107.37,120.55 L107.74,119.98 L108.10,119.40 L108.46,118.81 L108.82,118.23 L109.17,117.64 L109.51,117.05 L109.86,116.46 L110.19,115.86 L110.53,115.26 L110.86,114.67 L111.19,114.06 L111.51,113.46 L111.83,112.86 L112.15,112.25 L112.46,111.64 L112.77,111.03 L113.08,110.42 L113.38,109.81 L113.68,109.20 L113.98,108.58 L114.28,107.96 L114.57,107.34 L114.86,106.72 L115.14,106.10 L115.43,105.48 L115.71,104.86 L115.99,104.23 L116.27,103.61 L116.55,102.98 L116.82,102.35 L117.09,101.72 L117.36,101.09 L117.63,100.47 L117.90,99.83 L118.16,99.20 L118.42,98.57 L118.69,97.94 L118.95,97.31 L119.21,96.67 L119.46,96.04 L119.72,95.41 L119.98,94.77 L120.23,94.14 L120.48,93.51 L120.74,92.87 L120.99,92.24 L121.24,91.61 L121.49,90.97 L121.74,90.34 L121.99,89.70 L122.24,89.07 L122.49,88.44 L122.74,87.81 L122.99,87.18 L123.24,86.54 L123.49,85.91 L123.74,85.28 L123.99,84.65 L124.25,84.03 L124.50,83.40 L124.75,82.77 L125.00,82.15 L125.25,81.52 L125.51,80.90 L125.76,80.28 L126.02,79.65 L126.28,79.03 L126.53,78.41 L126.79,77.79 L127.05,77.18 L127.31,76.56 L127.57,75.94 L127.83,75.33 L128.09,74.71 L128.35,74.10 L128.61,73.49 L128.88,72.87 L129.14,72.26 L129.40,71.65 L129.67,71.04 L129.93,70.43 L130.20,69.82 L130.46,69.21 L130.72,68.60 L130.99,67.99 L131.26,67.38 L131.52,66.77 L131.79,66.16 L132.05,65.56 L132.32,64.95 L132.59,64.34 L132.85,63.73 L133.12,63.13 L133.38,62.52 L133.65,61.91 L133.92,61.30 L134.18,60.70 L134.45,60.09 L134.71,59.48 L134.98,58.87 L135.24,58.26 L135.51,57.66 L135.77,57.05 L136.04,56.44 L136.30,55.83 L136.56,55.22 L136.83,54.61 L137.09,54.00 L137.35,53.39 L137.61,52.78 L137.87,52.16 L138.13,51.55 L138.39,50.94 L138.65,50.32 L138.91,49.71 L139.17,49.09 L139.43,48.48 L139.68,47.86 L139.94,47.24 L140.19,46.62 L140.45,46.00 L140.70,45.38 L140.95,44.76 L141.21,44.14 L141.46,43.51 L141.71,42.89 L141.96,42.26 L142.20,41.64 L142.45,41.01 L142.69,40.38 L142.94,39.75 L143.18,39.12 L143.42,38.48 L143.66,37.85 L143.90,37.21 L144.14,36.57 L144.38,35.93 L144.62,35.29 L144.85,34.65 L145.08,34.01 L145.31,33.36 L145.54,32.72 L145.77,32.07 L146.00,31.42 L146.23,32.07 L146.46,32.72 L146.69,33.36 L146.92,34.01 L147.15,34.65 L147.38,35.29 L147.62,35.93 L147.86,36.57 L148.10,37.21 L148.34,37.85 L148.58,38.48 L148.82,39.12 L149.06,39.75 L149.31,40.38 L149.55,41.01 L149.80,41.64 L150.04,42.26 L150.29,42.89 L150.54,43.51 L150.79,44.14 L151.05,44.76 L151.30,45.38 L151.55,46.00 L151.81,46.62 L152.06,47.24 L152.32,47.86 L152.57,48.48 L152.83,49.09 L153.09,49.71 L153.35,50.32 L153.61,50.94 L153.87,51.55 L154.13,52.16 L154.39,52.78 L154.65,53.39 L154.91,54.00 L155.17,54.61 L155.44,55.22 L155.70,55.83 L155.96,56.44 L156.23,57.05 L156.49,57.66 L156.76,58.26 L157.02,58.87 L157.29,59.48 L157.55,60.09 L157.82,60.70 L158.08,61.30 L158.35,61.91 L158.62,62.52 L158.88,63.13 L159.15,63.73 L159.41,64.34 L159.68,64.95 L159.95,65.56 L160.21,66.16 L160.48,66.77 L160.74,67.38 L161.01,67.99 L161.28,68.60 L161.54,69.21 L161.80,69.82 L162.07,70.43 L162.33,71.04 L162.60,71.65 L162.86,72.26 L163.12,72.87 L163.39,73.49 L163.65,74.10 L163.91,74.71 L164.17,75.33 L164.43,75.94 L164.69,76.56 L164.95,77.18 L165.21,77.79 L165.47,78.41 L165.72,79.03 L165.98,79.65 L166.24,80.28 L166.49,80.90 L166.75,81.52 L167.00,82.15 L167.25,82.77 L167.50,83.40 L167.75,84.03 L168.01,84.65 L168.26,85.28 L168.51,85.91 L168.76,86.54 L169.01,87.18 L169.26,87.81 L169.51,88.44 L169.76,89.07 L170.01,89.70 L170.26,90.34 L170.51,90.97 L170.76,91.61 L171.01,92.24 L171.26,92.87 L171.52,93.51 L171.77,94.14 L172.02,94.77 L172.28,95.41 L172.54,96.04 L172.79,96.67 L173.05,97.31 L173.31,97.94 L173.58,98.57 L173.84,99.20 L174.10,99.83 L174.37,100.47 L174.64,101.09 L174.91,101.72 L175.18,102.35 L175.45,102.98 L175.73,103.61 L176.01,104.23 L176.29,104.86 L176.57,105.48 L176.86,106.10 L177.14,106.72 L177.43,107.34 L177.72,107.96 L178.02,108.58 L178.32,109.20 L178.62,109.81 L178.92,110.42 L179.23,111.03 L179.54,111.64 L179.85,112.25 L180.17,112.86 L180.49,113.46 L180.81,114.06 L181.14,114.67 L181.47,115.26 L181.81,115.86 L182.14,116.46 L182.49,117.05 L182.83,117.64 L183.18,118.23 L183.54,118.81 L183.90,119.40 L184.26,119.98 L184.63,120.55 L185.00,121.13 L185.38,121.70 L185.76,122.27 L186.14,122.84 L186.53,123.41 L186.93,123.97 L187.33,124.53 L187.74,125.08 L188.15,125.64 L188.56,126.19 L188.98,126.73 L189.41,127.28 L189.84,127.82 L190.28,128.36 L190.73,128.89 L191.17,129.42 L191.63,129.95 L192.09,130.47 L192.56,130.99 L193.03,131.51 L193.51,132.02 L194.00,132.53 L194.49,133.04 L194.99,133.54 L195.49,134.03 L196.00,134.53 L196.52,135.02 L197.05,135.50 L197.58,135.98 L198.12,136.46 L198.66,136.93 L199.22,137.40 L199.78,137.87 L200.34,138.32 L200.92,138.78 L201.50,139.23 L202.09,139.67 L202.68,140.10 L203.28,140.53 L203.89,140.95 L204.50,141.37 L205.13,141.78 L205.75,142.17 L206.39,142.57 L207.03,142.95 L207.67,143.32 L208.33,143.68 L208.99,144.04 L209.65,144.38 L210.32,144.72 L211.00,145.04 L211.68,145.36 L212.37,145.66 L213.07,145.95 L213.77,146.23 L214.47,146.49 L215.19,146.75 L215.90,146.99 L216.63,147.21 L217.36,147.43 L218.09,147.63 L218.83,147.82 L219.57,147.99 L220.32,148.15 L221.08,148.30 L221.84,148.44 L222.60,148.57 L223.36,148.69 L224.13,148.79 L224.91,148.89 L225.68,148.98 L226.46,149.05 L227.25,149.12 L228.03,149.18 L228.82,149.23 L229.61,149.27 L230.41,149.31 L231.20,149.33 L232.00,149.35 L232.79,149.37 L233.59,149.37 L234.39,149.38 L235.20,149.37 L236.00,149.36 L236.80,149.35 L237.60,149.33 L238.41,149.31 L239.21,149.28 L240.01,149.25 L240.81,149.22 L241.61,149.18 L242.41,149.14 L243.21,149.10 L244.01,149.06 L244.81,149.02 L245.61,148.97 L246.40,148.92 L247.20,148.87 L247.99,148.82 L248.78,148.77 L249.58,148.72 L250.37,148.66 L251.16,148.60 L251.95,148.55 L252.74,148.49 L253.53,148.43 L254.32,148.37 L255.11,148.31 L255.89,148.24 L256.68,148.18 L257.47,148.12 L258.25,148.05 L259.04,147.99 L259.82,147.93 L260.61,147.86 L261.39,147.80 L262.17,147.73 L262.96,147.67 L263.74,147.60 L264.52,147.54 L265.31,147.47 L266.09,147.41 L266.87,147.35 L267.66,147.28 L268.44,147.22 L269.22,147.16 L270.00,147.10 L270.78,147.04 L271.57,146.98 L272.35,146.92 L273.13,146.87 L273.91,146.81 L274.70,146.76 L275.48,146.70 L276.26,146.65 L277.05,146.60 L277.83,146.56 L278.61,146.51 L279.40,146.47 L280.18,146.42 L280.96,146.38 L281.75,146.35 L282.53,146.31 L283.32,146.28 L284.11,146.25 L284.89,146.22 L285.68,146.19 L286.47,146.17 L287.26,146.15 L288.05,146.13 L288.84,146.11 L289.63,146.10 L290.42,146.09 L291.21,146.09 L292.00,146.08" stroke="#eb6235"/>
<path d="M-0.00,151.04 L0.90,151.17 L1.81,151.30 L2.72,151.43 L3.62,151.55 L4.53,151.68 L5.44,151.81 L6.34,151.93 L7.25,152.06 L8.16,152.19 L9.07,152.31 L9.98,152.44 L10.89,152.57 L11.80,152.70 L12.71,152.82 L13.62,152.95 L14.53,153.08 L15.44,153.21 L16.35,153.34 L17.26,153.48 L18.17,153.61 L19.08,153.74 L19.99,153.88 L20.90,154.02 L21.81,154.16 L22.72,154.30 L23.63,154.44 L24.53,154.58 L25.44,154.73 L26.35,154.88 L27.25,155.03 L28.16,155.18 L29.06,155.33 L29.96,155.49 L30.87,155.65 L31.77,155.81 L32.67,155.97 L33.57,156.14 L34.47,156.31 L35.36,156.48 L36.26,156.66 L37.16,156.84 L38.05,157.02 L38.94,157.20 L39.83,157.39 L40.72,157.59 L41.61,157.78 L42.50,157.98 L43.38,158.18 L44.27,158.39 L45.15,158.60 L46.03,158.82 L46.91,159.03 L47.79,159.26 L48.66,159.48 L49.54,159.72 L50.41,159.95 L51.28,160.19 L52.14,160.44 L53.01,160.69 L53.87,160.95 L54.73,161.21 L55.59,161.47 L56.45,161.74 L57.30,162.02 L58.15,162.30 L59.00,162.59 L59.85,162.88 L60.69,163.18 L61.53,163.48 L62.37,163.79 L63.21,164.10 L64.04,164.43 L64.87,164.75 L65.70,165.09 L66.52,165.43 L67.35,165.77 L68.17,166.13 L68.98,166.49 L69.79,166.85 L70.60,167.23 L71.41,167.61 L72.21,167.99 L73.01,168.39 L73.81,168.79 L74.61,169.19 L75.40,169.60 L76.20,170.01 L77.00,170.42 L77.81,170.82 L78.62,171.22 L79.44,171.61 L80.28,171.99 L81.13,172.35 L81.99,172.70 L82.86,173.02 L83.75,173.31 L84.64,173.54 L85.52,173.70 L86.41,173.79 L87.28,173.79 L88.14,173.69 L88.99,173.50 L89.82,173.22 L90.63,172.88 L91.42,172.47 L92.18,172.01 L92.91,171.50 L93.61,170.97 L94.28,170.41 L94.92,169.84 L95.52,169.24 L96.09,168.63 L96.64,168.01 L97.16,167.37 L97.65,166.72 L98.12,166.05 L98.57,165.38 L98.99,164.69 L99.40,163.99 L99.79,163.29 L100.17,162.58 L100.53,161.86 L100.88,161.13 L101.22,160.40 L101.55,159.67 L101.87,158.93 L102.19,158.19 L102.50,157.45 L102.81,156.71 L103.12,155.98 L103.43,155.24 L103.75,154.51 L104.06,153.78 L104.38,153.05 L104.70,152.32 L105.02,151.60 L105.34,150.88 L105.67,150.16 L105.99,149.44 L106.32,148.73 L106.64,148.01 L106.97,147.30 L107.29,146.59 L107.62,145.87 L107.94,145.16 L108.27,144.45 L108.59,143.74 L108.91,143.03 L109.23,142.32 L109.55,141.61 L109.87,140.89 L110.18,140.18 L110.49,139.46 L110.80,138.75 L111.11,138.03 L111.41,137.31 L111.71,136.59 L112.01,135.87 L112.31,135.15 L112.60,134.43 L112.89,133.70 L113.18,132.98 L113.47,132.25 L113.76,131.52 L114.04,130.80 L114.32,130.07 L114.60,129.34 L114.88,128.61 L115.15,127.87 L115.43,127.14 L115.70,126.41 L115.97,125.68 L116.23,124.94 L116.50,124.21 L116.76,123.47 L117.03,122.73 L117.29,122.00 L117.55,121.26 L117.81,120.52 L118.06,119.78 L118.32,119.04 L118.57,118.30 L118.83,117.56 L119.08,116.82 L119.33,116.08 L119.58,115.34 L119.83,114.60 L120.07,113.86 L120.32,113.11 L120.56,112.37 L120.81,111.63 L121.05,110.89 L121.29,110.14 L121.53,109.40 L121.78,108.65 L122.02,107.91 L122.25,107.17 L122.49,106.42 L122.73,105.68 L122.97,104.93 L123.21,104.19 L123.44,103.45 L123.68,102.70 L123.92,101.96 L124.15,101.21 L124.39,100.47 L124.62,99.73 L124.86,98.98 L125.09,98.24 L125.33,97.49 L125.56,96.75 L125.79,96.01 L126.03,95.26 L126.26,94.52 L126.49,93.78 L126.73,93.03 L126.96,92.29 L127.19,91.55 L127.42,90.81 L127.66,90.06 L127.89,89.32 L128.12,88.58 L128.35,87.83 L128.58,87.09 L128.81,86.35 L129.04,85.61 L129.28,84.86 L129.51,84.12 L129.74,83.38 L129.97,82.64 L130.20,81.89 L130.43,81.15 L130.66,80.41 L130.89,79.67 L131.12,78.92 L131.35,78.18 L131.58,77.44 L131.81,76.70 L132.04,75.96 L132.27,75.21 L132.50,74.47 L132.72,73.73 L132.95,72.99 L133.18,72.25 L133.41,71.50 L133.64,70.76 L133.87,70.02 L134.10,69.28 L134.33,68.54 L134.56,67.79 L134.79,67.05 L135.02,66.31 L135.25,65.57 L135.48,64.83 L135.71,64.08 L135.94,63.34 L136.17,62.60 L136.40,61.86 L136.63,61.12 L136.86,60.37 L137.09,59.63 L137.32,58.89 L137.55,58.15 L137.78,57.41 L138.01,56.66 L138.24,55.92 L138.47,55.18 L138.71,54.44 L138.94,53.70 L139.17,52.95 L139.40,52.21 L139.63,51.47 L139.86,50.73 L140.10,49.99 L140.33,49.24 L140.56,48.50 L140.80,47.76 L141.03,47.02 L141.26,46.27 L141.50,45.53 L141.73,44.79 L141.97,44.05 L142.20,43.30 L142.43,42.56 L142.67,41.82 L142.91,41.08 L143.14,40.33 L143.38,39.59 L143.61,38.85 L143.85,38.11 L144.09,37.36 L144.33,36.62 L144.56,35.88 L144.80,35.13 L145.04,34.39 L145.28,33.65 L145.52,32.90 L145.76,32.16 L146.00,31.42 L146.24,32.16 L146.48,32.90 L146.72,33.65 L146.96,34.39 L147.20,35.13 L147.44,35.88 L147.67,36.62 L147.91,37.36 L148.15,38.11 L148.39,38.85 L148.62,39.59 L148.86,40.33 L149.09,41.08 L149.33,41.82 L149.57,42.56 L149.80,43.30 L150.03,44.05 L150.27,44.79 L150.50,45.53 L150.74,46.27 L150.97,47.02 L151.20,47.76 L151.44,48.50 L151.67,49.24 L151.90,49.99 L152.14,50.73 L152.37,51.47 L152.60,52.21 L152.83,52.95 L153.06,53.70 L153.29,54.44 L153.53,55.18 L153.76,55.92 L153.99,56.66 L154.22,57.41 L154.45,58.15 L154.68,58.89 L154.91,59.63 L155.14,60.37 L155.37,61.12 L155.60,61.86 L155.83,62.60 L156.06,63.34 L156.29,64.08 L156.52,64.83 L156.75,65.57 L156.98,66.31 L157.21,67.05 L157.44,67.79 L157.67,68.54 L157.90,69.28 L158.13,70.02 L158.36,70.76 L158.59,71.50 L158.82,72.25 L159.05,72.99 L159.28,73.73 L159.50,74.47 L159.73,75.21 L159.96,75.96 L160.19,76.70 L160.42,77.44 L160.65,78.18 L160.88,78.92 L161.11,79.67 L161.34,80.41 L161.57,81.15 L161.80,81.89 L162.03,82.64 L162.26,83.38 L162.49,84.12 L162.72,84.86 L162.96,85.61 L163.19,86.35 L163.42,87.09 L163.65,87.83 L163.88,88.58 L164.11,89.32 L164.34,90.06 L164.58,90.81 L164.81,91.55 L165.04,92.29 L165.27,93.03 L165.51,93.78 L165.74,94.52 L165.97,95.26 L166.21,96.01 L166.44,96.75 L166.67,97.49 L166.91,98.24 L167.14,98.98 L167.38,99.73 L167.61,100.47 L167.85,101.21 L168.08,101.96 L168.32,102.70 L168.56,103.45 L168.79,104.19 L169.03,104.93 L169.27,105.68 L169.51,106.42 L169.75,107.17 L169.98,107.91 L170.22,108.65 L170.47,109.40 L170.71,110.14 L170.95,110.89 L171.19,111.63 L171.44,112.37 L171.68,113.11 L171.93,113.86 L172.17,114.60 L172.42,115.34 L172.67,116.08 L172.92,116.82 L173.17,117.56 L173.43,118.30 L173.68,119.04 L173.94,119.78 L174.19,120.52 L174.45,121.26 L174.71,122.00 L174.97,122.73 L175.24,123.47 L175.50,124.21 L175.77,124.94 L176.03,125.68 L176.30,126.41 L176.57,127.14 L176.85,127.87 L177.12,128.61 L177.40,129.34 L177.68,130.07 L177.96,130.80 L178.24,131.52 L178.53,132.25 L178.82,132.98 L179.11,133.70 L179.40,134.43 L179.69,135.15 L179.99,135.87 L180.29,136.59 L180.59,137.31 L180.89,138.03 L181.20,138.75 L181.51,139.46 L181.82,140.18 L182.13,140.89 L182.45,141.61 L182.77,142.32 L183.09,143.03 L183.41,143.74 L183.73,144.45 L184.06,145.16 L184.38,145.87 L184.71,146.59 L185.03,147.30 L185.36,148.01 L185.68,148.73 L186.01,149.44 L186.33,150.16 L186.66,150.88 L186.98,151.60 L187.30,152.32 L187.62,153.05 L187.94,153.78 L188.25,154.51 L188.57,155.24 L188.88,155.98 L189.19,156.71 L189.50,157.45 L189.81,158.19 L190.13,158.93 L190.45,159.67 L190.78,160.40 L191.12,161.13 L191.47,161.86 L191.83,162.58 L192.21,163.29 L192.60,163.99 L193.01,164.69 L193.43,165.38 L193.88,166.05 L194.35,166.72 L194.84,167.37 L195.36,168.01 L195.91,168.63 L196.48,169.24 L197.08,169.84 L197.72,170.41 L198.39,170.97 L199.09,171.50 L199.82,172.01 L200.58,172.47 L201.37,172.88 L202.18,173.22 L203.01,173.50 L203.86,173.69 L204.72,173.79 L205.59,173.79 L206.48,173.70 L207.36,173.54 L208.25,173.31 L209.14,173.02 L210.01,172.70 L210.87,172.35 L211.72,171.99 L212.56,171.61 L213.38,171.22 L214.19,170.82 L215.00,170.42 L215.80,170.01 L216.60,169.60 L217.39,169.19 L218.19,168.79 L218.99,168.39 L219.79,167.99 L220.59,167.61 L221.40,167.23 L222.21,166.85 L223.02,166.49 L223.83,166.13 L224.65,165.77 L225.48,165.43 L226.30,165.09 L227.13,164.75 L227.96,164.43 L228.79,164.10 L229.63,163.79 L230.47,163.48 L231.31,163.18 L232.15,162.88 L233.00,162.59 L233.85,162.30 L234.70,162.02 L235.55,161.74 L236.41,161.47 L237.27,161.21 L238.13,160.95 L238.99,160.69 L239.86,160.44 L240.72,160.19 L241.59,159.95 L242.46,159.72 L243.34,159.48 L244.21,159.26 L245.09,159.03 L245.97,158.82 L246.85,158.60 L247.73,158.39 L248.62,158.18 L249.50,157.98 L250.39,157.78 L251.28,157.59 L252.17,157.39 L253.06,157.20 L253.95,157.02 L254.84,156.84 L255.74,156.66 L256.64,156.48 L257.53,156.31 L258.43,156.14 L259.33,155.97 L260.23,155.81 L261.13,155.65 L262.04,155.49 L262.94,155.33 L263.84,155.18 L264.75,155.03 L265.65,154.88 L266.56,154.73 L267.47,154.58 L268.37,154.44 L269.28,154.30 L270.19,154.16 L271.10,154.02 L272.01,153.88 L272.92,153.74 L273.83,153.61 L274.74,153.48 L275.65,153.34 L276.56,153.21 L277.47,153.08 L278.38,152.95 L279.29,152.82 L280.20,152.70 L281.11,152.57 L282.02,152.44 L282.93,152.31 L283.84,152.19 L284.75,152.06 L285.66,151.93 L286.56,151.81 L287.47,151.68 L288.38,151.55 L289.28,151.43 L290.19,151.30 L291.10,151.17 L292.00,151.04" stroke="#8778b3"/>
<path d="M0.00,152.71 L1.00,152.81 L2.00,152.92 L3.01,153.04 L4.02,153.15 L5.03,153.27 L6.04,153.40 L7.05,153.52 L8.07,153.65 L9.09,153.79 L10.10,153.93 L11.12,154.07 L12.14,154.21 L13.16,154.36 L14.18,154.52 L15.20,154.68 L16.22,154.84 L17.25,155.01 L18.27,155.18 L19.29,155.36 L20.31,155.54 L21.33,155.73 L22.35,155.92 L23.37,156.12 L24.39,156.32 L25.40,156.53 L26.42,156.74 L27.43,156.96 L28.44,157.18 L29.46,157.41 L30.46,157.65 L31.47,157.89 L32.47,158.14 L33.48,158.39 L34.47,158.65 L35.47,158.91 L36.46,159.18 L37.45,159.46 L38.44,159.74 L39.43,160.04 L40.41,160.33 L41.38,160.64 L42.35,160.95 L43.32,161.26 L44.29,161.59 L45.25,161.92 L46.20,162.26 L47.15,162.60 L48.10,162.95 L49.04,163.31 L49.98,163.68 L50.91,164.05 L51.83,164.44 L52.75,164.83 L53.67,165.23 L54.58,165.63 L55.48,166.04 L56.37,166.47 L57.26,166.90 L58.15,167.33 L59.02,167.78 L59.89,168.24 L60.75,168.70 L61.61,169.17 L62.46,169.65 L63.30,170.14 L64.13,170.64 L64.96,171.15 L65.77,171.66 L66.58,172.19 L67.38,172.72 L68.17,173.27 L68.96,173.82 L69.73,174.38 L70.50,174.96 L71.26,175.54 L72.00,176.13 L72.74,176.73 L73.47,177.34 L74.19,177.96 L74.90,178.60 L75.60,179.24 L76.29,179.89 L76.97,180.55 L77.64,181.22 L78.30,181.89 L78.95,182.58 L79.59,183.27 L80.22,183.96 L80.84,184.67 L81.45,185.37 L82.05,186.09 L82.64,186.80 L83.22,187.53 L83.80,188.25 L84.39,188.97 L84.99,189.68 L85.63,190.39 L86.31,191.08 L87.04,191.75 L87.85,192.39 L88.71,192.94 L89.60,193.29 L90.50,193.33 L91.37,193.03 L92.19,192.47 L92.92,191.77 L93.54,191.02 L94.07,190.24 L94.55,189.46 L95.01,188.67 L95.47,187.88 L95.92,187.09 L96.36,186.30 L96.80,185.51 L97.23,184.71 L97.65,183.92 L98.07,183.12 L98.49,182.32 L98.90,181.53 L99.30,180.73 L99.70,179.93 L100.09,179.13 L100.48,178.33 L100.87,177.52 L101.24,176.72 L101.62,175.91 L101.99,175.11 L102.35,174.30 L102.71,173.49 L103.07,172.68 L103.42,171.88 L103.77,171.06 L104.12,170.25 L104.46,169.44 L104.79,168.63 L105.12,167.82 L105.45,167.00 L105.78,166.19 L106.10,165.37 L106.42,164.55 L106.74,163.73 L107.05,162.92 L107.36,162.10 L107.67,161.28 L107.97,160.46 L108.27,159.63 L108.57,158.81 L108.87,157.99 L109.17,157.17 L109.46,156.34 L109.75,155.52 L110.04,154.69 L110.32,153.87 L110.61,153.04 L110.89,152.21 L111.17,151.39 L111.45,150.56 L111.73,149.73 L112.01,148.90 L112.28,148.07 L112.56,147.24 L112.83,146.41 L113.10,145.58 L113.37,144.74 L113.64,143.91 L113.91,143.08 L114.18,142.25 L114.45,141.41 L114.71,140.58 L114.98,139.74 L115.24,138.91 L115.50,138.07 L115.77,137.24 L116.03,136.40 L116.29,135.57 L116.55,134.73 L116.81,133.89 L117.06,133.05 L117.32,132.22 L117.58,131.38 L117.83,130.54 L118.09,129.70 L118.34,128.87 L118.60,128.03 L118.85,127.19 L119.10,126.35 L119.35,125.51 L119.60,124.67 L119.85,123.83 L120.10,122.99 L120.35,122.15 L120.60,121.32 L120.85,120.48 L121.10,119.64 L121.35,118.80 L121.59,117.96 L121.84,117.12 L122.09,116.28 L122.33,115.44 L122.58,114.60 L122.82,113.76 L123.07,112.92 L123.31,112.08 L123.56,111.24 L123.80,110.40 L124.04,109.56 L124.29,108.72 L124.53,107.88 L124.77,107.04 L125.01,106.20 L125.26,105.36 L125.50,104.53 L125.74,103.69 L125.98,102.85 L126.22,102.01 L126.46,101.17 L126.70,100.33 L126.94,99.49 L127.18,98.65 L127.42,97.81 L127.66,96.97 L127.90,96.13 L128.13,95.29 L128.37,94.45 L128.61,93.61 L128.85,92.77 L129.09,91.93 L129.32,91.09 L129.56,90.25 L129.80,89.41 L130.03,88.57 L130.27,87.73 L130.51,86.89 L130.74,86.05 L130.98,85.21 L131.22,84.37 L131.45,83.53 L131.69,82.69 L131.92,81.85 L132.16,81.01 L132.39,80.17 L132.63,79.33 L132.86,78.49 L133.10,77.65 L133.33,76.81 L133.57,75.97 L133.80,75.13 L134.03,74.29 L134.27,73.45 L134.50,72.61 L134.74,71.77 L134.97,70.93 L135.20,70.09 L135.44,69.25 L135.67,68.41 L135.91,67.57 L136.14,66.73 L136.37,65.89 L136.61,65.05 L136.84,64.20 L137.07,63.36 L137.31,62.52 L137.54,61.68 L137.78,60.84 L138.01,60.00 L138.24,59.16 L138.48,58.32 L138.71,57.48 L138.94,56.64 L139.18,55.80 L139.41,54.96 L139.65,54.12 L139.88,53.28 L140.11,52.44 L140.35,51.60 L140.58,50.76 L140.82,49.92 L141.05,49.08 L141.28,48.23 L141.52,47.39 L141.75,46.55 L141.99,45.71 L142.22,44.87 L142.46,44.03 L142.69,43.19 L142.93,42.35 L143.16,41.51 L143.40,40.67 L143.63,39.83 L143.87,38.99 L144.11,38.14 L144.34,37.30 L144.58,36.46 L144.81,35.62 L145.05,34.78 L145.29,33.94 L145.53,33.10 L145.76,32.26 L146.00,31.42 L146.24,32.26 L146.47,33.10 L146.71,33.94 L146.95,34.78 L147.19,35.62 L147.42,36.46 L147.66,37.30 L147.89,38.14 L148.13,38.99 L148.37,39.83 L148.60,40.67 L148.84,41.51 L149.07,42.35 L149.31,43.19 L149.54,44.03 L149.78,44.87 L150.01,45.71 L150.25,46.55 L150.48,47.39 L150.72,48.23 L150.95,49.08 L151.18,49.92 L151.42,50.76 L151.65,51.60 L151.89,52.44 L152.12,53.28 L152.35,54.12 L152.59,54.96 L152.82,55.80 L153.06,56.64 L153.29,57.48 L153.52,58.32 L153.76,59.16 L153.99,60.00 L154.22,60.84 L154.46,61.68 L154.69,62.52 L154.93,63.36 L155.16,64.20 L155.39,65.05 L155.63,65.89 L155.86,66.73 L156.09,67.57 L156.33,68.41 L156.56,69.25 L156.80,70.09 L157.03,70.93 L157.26,71.77 L157.50,72.61 L157.73,73.45 L157.97,74.29 L158.20,75.13 L158.43,75.97 L158.67,76.81 L158.90,77.65 L159.14,78.49 L159.37,79.33 L159.61,80.17 L159.84,81.01 L160.08,81.85 L160.31,82.69 L160.55,83.53 L160.78,84.37 L161.02,85.21 L161.26,86.05 L161.49,86.89 L161.73,87.73 L161.97,88.57 L162.20,89.41 L162.44,90.25 L162.68,91.09 L162.91,91.93 L163.15,92.77 L163.39,93.61 L163.63,94.45 L163.87,95.29 L164.10,96.13 L164.34,96.97 L164.58,97.81 L164.82,98.65 L165.06,99.49 L165.30,100.33 L165.54,101.17 L165.78,102.01 L166.02,102.85 L166.26,103.69 L166.50,104.53 L166.74,105.36 L166.99,106.20 L167.23,107.04 L167.47,107.88 L167.71,108.72 L167.96,109.56 L168.20,110.40 L168.44,111.24 L168.69,112.08 L168.93,112.92 L169.18,113.76 L169.42,114.60 L169.67,115.44 L169.91,116.28 L170.16,117.12 L170.41,117.96 L170.65,118.80 L170.90,119.64 L171.15,120.48 L171.40,121.32 L171.65,122.15 L171.90,122.99 L172.15,123.83 L172.40,124.67 L172.65,125.51 L172.90,126.35 L173.15,127.19 L173.40,128.03 L173.66,128.87 L173.91,129.70 L174.17,130.54 L174.42,131.38 L174.68,132.22 L174.94,133.05 L175.19,133.89 L175.45,134.73 L175.71,135.57 L175.97,136.40 L176.23,137.24 L176.50,138.07 L176.76,138.91 L177.02,139.74 L177.29,140.58 L177.55,141.41 L177.82,142.25 L178.09,143.08 L178.36,143.91 L178.63,144.74 L178.90,145.58 L179.17,146.41 L179.44,147.24 L179.72,148.07 L179.99,148.90 L180.27,149.73 L180.55,150.56 L180.83,151.39 L181.11,152.21 L181.39,153.04 L181.68,153.87 L181.96,154.69 L182.25,155.52 L182.54,156.34 L182.83,157.17 L183.13,157.99 L183.43,158.81 L183.73,159.63 L184.03,160.46 L184.33,161.28 L184.64,162.10 L184.95,162.92 L185.26,163.73 L185.58,164.55 L185.90,165.37 L186.22,166.19 L186.55,167.00 L186.88,167.82 L187.21,168.63 L187.54,169.44 L187.88,170.25 L188.23,171.06 L188.58,171.88 L188.93,172.68 L189.29,173.49 L189.65,174.30 L190.01,175.11 L190.38,175.91 L190.76,176.72 L191.13,177.52 L191.52,178.33 L191.91,179.13 L192.30,179.93 L192.70,180.73 L193.10,181.53 L193.51,182.32 L193.93,183.12 L194.35,183.92 L194.77,184.71 L195.20,185.51 L195.64,186.30 L196.08,187.09 L196.53,187.88 L196.99,188.67 L197.45,189.46 L197.93,190.24 L198.46,191.02 L199.08,191.77 L199.81,192.47 L200.63,193.03 L201.50,193.33 L202.40,193.29 L203.29,192.94 L204.15,192.39 L204.96,191.75 L205.69,191.08 L206.37,190.39 L207.01,189.68 L207.61,188.97 L208.20,188.25 L208.78,187.53 L209.36,186.80 L209.95,186.09 L210.55,185.37 L211.16,184.67 L211.78,183.96 L212.41,183.27 L213.05,182.58 L213.70,181.89 L214.36,181.22 L215.03,180.55 L215.71,179.89 L216.40,179.24 L217.10,178.60 L217.81,177.96 L218.53,177.34 L219.26,176.73 L220.00,176.13 L220.74,175.54 L221.50,174.96 L222.27,174.38 L223.04,173.82 L223.83,173.27 L224.62,172.72 L225.42,172.19 L226.23,171.66 L227.04,171.15 L227.87,170.64 L228.70,170.14 L229.54,169.65 L230.39,169.17 L231.25,168.70 L232.11,168.24 L232.98,167.78 L233.85,167.33 L234.74,166.90 L235.63,166.47 L236.52,166.04 L237.42,165.63 L238.33,165.23 L239.25,164.83 L240.17,164.44 L241.09,164.05 L242.02,163.68 L242.96,163.31 L243.90,162.95 L244.85,162.60 L245.80,162.26 L246.75,161.92 L247.71,161.59 L248.68,161.26 L249.65,160.95 L250.62,160.64 L251.59,160.33 L252.57,160.04 L253.56,159.74 L254.55,159.46 L255.54,159.18 L256.53,158.91 L257.53,158.65 L258.52,158.39 L259.53,158.14 L260.53,157.89 L261.54,157.65 L262.54,157.41 L263.56,157.18 L264.57,156.96 L265.58,156.74 L266.60,156.53 L267.61,156.32 L268.63,156.12 L269.65,155.92 L270.67,155.73 L271.69,155.54 L272.71,155.36 L273.73,155.18 L274.75,155.01 L275.78,154.84 L276.80,154.68 L277.82,154.52 L278.84,154.36 L279.86,154.21 L280.88,154.07 L281.90,153.93 L282.91,153.79 L283.93,153.65 L284.95,153.52 L285.96,153.40 L286.97,153.27 L287.98,153.15 L288.99,153.04 L290.00,152.92 L291.00,152.81 L292.00,152.71" stroke="#c56e1a"/>
<path d="M-0.00,153.54 L0.52,153.64 L1.05,153.74 L1.57,153.84 L2.09,153.94 L2.62,154.04 L3.14,154.14 L3.67,154.24 L4.19,154.34 L4.71,154.44 L5.24,154.54 L5.76,154.64 L6.28,154.74 L6.81,154.85 L7.33,154.95 L7.85,155.05 L8.38,155.15 L8.90,155.25 L9.42,155.36 L9.94,155.46 L10.47,155.56 L10.99,155.67 L11.51,155.77 L12.03,155.88 L12.56,155.98 L13.08,156.09 L13.60,156.20 L14.12,156.31 L14.64,156.41 L15.16,156.52 L15.68,156.63 L16.20,156.74 L16.72,156.86 L17.24,156.97 L17.76,157.08 L18.28,157.20 L18.80,157.31 L19.32,157.43 L19.84,157.55 L20.36,157.66 L20.87,157.78 L21.39,157.90 L21.91,158.03 L22.43,158.15 L22.94,158.27 L23.46,158.40 L23.97,158.53 L24.49,158.65 L25.00,158.78 L25.52,158.91 L26.03,159.04 L26.54,159.18 L27.05,159.31 L27.57,159.45 L28.08,159.59 L28.59,159.73 L29.10,159.87 L29.61,160.01 L30.12,160.15 L30.62,160.30 L31.13,160.45 L31.64,160.59 L32.14,160.75 L32.65,160.90 L33.15,161.05 L33.66,161.21 L34.16,161.37 L34.66,161.53 L35.16,161.69 L35.66,161.85 L36.16,162.02 L36.66,162.18 L37.16,162.35 L37.65,162.53 L38.15,162.70 L38.64,162.88 L39.13,163.05 L39.63,163.23 L40.12,163.42 L40.61,163.60 L41.09,163.79 L41.58,163.98 L42.07,164.17 L42.55,164.36 L43.03,164.56 L43.52,164.76 L44.00,164.96 L44.48,165.16 L44.95,165.36 L45.43,165.57 L45.90,165.78 L46.38,166.00 L46.85,166.21 L47.32,166.43 L47.78,166.65 L48.25,166.87 L48.71,167.10 L49.18,167.33 L49.64,167.56 L50.10,167.79 L50.55,168.02 L51.01,168.26 L51.46,168.50 L51.91,168.75 L52.36,168.99 L52.81,169.24 L53.25,169.49 L53.70,169.74 L54.14,170.00 L54.58,170.26 L55.02,170.52 L55.45,170.78 L55.88,171.04 L56.32,171.31 L56.75,171.58 L57.17,171.85 L57.60,172.12 L58.02,172.40 L58.44,172.68 L58.86,172.96 L59.28,173.24 L59.69,173.52 L60.11,173.81 L60.52,174.10 L60.93,174.39 L61.33,174.68 L61.74,174.97 L62.14,175.27 L62.54,175.57 L62.94,175.87 L63.33,176.17 L63.73,176.48 L64.12,176.79 L64.51,177.09 L64.90,177.40 L65.28,177.72 L65.66,178.03 L66.04,178.35 L66.42,178.67 L66.80,178.99 L67.17,179.31 L67.54,179.63 L67.91,179.96 L68.27,180.29 L68.64,180.62 L69.00,180.95 L69.36,181.28 L69.71,181.62 L70.06,181.95 L70.42,182.29 L70.76,182.63 L71.11,182.98 L71.45,183.32 L71.79,183.67 L72.13,184.02 L72.46,184.37 L72.79,184.72 L73.12,185.08 L73.45,185.43 L73.77,185.79 L74.09,186.15 L74.40,186.51 L74.72,186.88 L75.03,187.24 L75.33,187.61 L75.64,187.98 L75.94,188.35 L76.23,188.72 L76.52,189.10 L76.81,189.48 L77.10,189.86 L77.38,190.24 L77.66,190.62 L77.94,191.00 L78.21,191.39 L78.48,191.78 L78.74,192.17 L79.00,192.56 L79.26,192.95 L79.51,193.35 L79.76,193.75 L80.00,194.14 L80.24,194.55 L80.48,194.95 L80.71,195.35 L80.94,195.76 L81.16,196.16 L81.38,196.57 L81.60,196.98 L81.81,197.40 L82.01,197.81 L82.21,198.22 L82.41,198.64 L82.60,199.06 L82.79,199.48 L82.97,199.90 L83.15,200.32 L83.32,200.75 L83.49,201.17 L83.66,201.60 L83.82,202.02 L83.97,202.45 L84.12,202.88 L84.26,203.31 L84.40,203.75 L84.54,204.18 L84.67,204.61 L84.80,205.05 L84.92,205.48 L85.04,205.92 L85.15,206.36 L85.26,206.80 L85.36,207.24 L85.46,207.68 L85.56,208.12 L85.65,208.56 L85.73,209.00 L85.82,209.44 L85.89,209.89 L85.96,210.33 L86.03,210.77 L86.10,211.22 L86.16,211.66 L86.21,212.11 L86.27,212.56 L86.31,213.00 L86.35,213.45 L86.38,213.89 L86.41,214.34 L86.44,214.79 L86.48,215.24 L86.52,215.68 L86.56,216.13 L86.62,216.57 L86.67,217.02 L86.73,217.46 L86.79,217.91 L86.86,218.35 L86.93,218.80 L86.99,219.24 L87.06,219.68 L87.13,220.13 L87.20,220.57 L87.27,221.02 L87.34,221.46 L87.40,221.91 L87.46,222.35 L87.52,222.80 L87.58,223.24 L87.63,223.69 L87.68,224.13 L87.73,224.58 L87.78,225.02 L87.83,225.47 L87.87,225.91 L87.92,226.36 L87.96,226.81 L88.01,227.25 L88.05,227.70 L88.09,228.15 L88.14,228.59 L88.18,229.04 L88.22,229.48 L88.26,229.93 L88.31,230.38 L88.35,230.82 L88.39,231.27 L88.44,231.72 L88.48,232.16 L88.52,232.61 L88.55,233.06 L88.59,233.50 L88.63,233.95 L88.66,234.40 L88.70,234.85 L88.74,235.29 L88.77,235.74 L88.81,236.19 L88.86,236.63 L88.90,237.08 L88.95,237.52 L89.00,237.97 L89.06,238.41 L89.11,238.86 L89.18,239.30 L89.25,239.75 L89.34,240.20 L89.44,240.64 L89.55,241.07 L89.68,241.50 L89.86,241.92 L90.08,242.35 L90.33,242.75 L90.60,243.13 L90.91,243.48 L91.27,243.81 L91.67,244.12 L92.09,244.41 L92.52,244.68 L92.96,244.93 L93.42,245.17 L93.90,245.38 L94.38,245.59 L94.87,245.77 L95.36,245.95 L95.86,246.11 L96.36,246.27 L96.87,246.42 L97.38,246.56 L97.90,246.69 L98.42,246.81 L98.93,246.93 L99.45,247.04 L99.97,247.14 L100.50,247.24 L101.03,247.34 L101.55,247.43 L102.08,247.51 L102.61,247.59 L103.14,247.67 L103.67,247.75 L104.20,247.82 L104.73,247.89 L105.26,247.97 L105.79,248.04 L106.32,248.10 L106.85,248.17 L107.38,248.23 L107.92,248.30 L108.45,248.36 L108.98,248.42 L109.52,248.47 L110.05,248.53 L110.58,248.58 L111.12,248.63 L111.65,248.67 L112.19,248.72 L112.72,248.76 L113.25,248.80 L113.79,248.84 L114.32,248.88 L114.86,248.92 L115.39,248.96 L115.93,249.00 L116.47,249.04 L117.00,249.07 L117.54,249.11 L118.07,249.14 L118.61,249.18 L119.15,249.21 L119.68,249.24 L120.22,249.27 L120.76,249.30 L121.29,249.32 L121.83,249.34 L122.37,249.36 L122.90,249.38 L123.44,249.40 L123.98,249.41 L124.51,249.42 L125.05,249.42 L125.59,249.43 L126.12,249.44 L126.66,249.45 L127.20,249.45 L127.73,249.46 L128.27,249.47 L128.81,249.47 L129.34,249.48 L129.88,249.49 L130.42,249.49 L130.95,249.50 L131.49,249.50 L132.03,249.51 L132.56,249.52 L133.10,249.52 L133.64,249.53 L134.18,249.53 L134.71,249.54 L135.25,249.54 L135.79,249.54 L136.32,249.55 L136.86,249.55 L137.40,249.55 L137.94,249.56 L138.47,249.56 L139.01,249.56 L139.55,249.57 L140.09,249.57 L140.62,249.57 L141.16,249.57 L141.70,249.58 L142.24,249.58 L142.77,249.58 L143.31,249.58 L143.85,249.58 L144.39,249.58 L144.92,249.58 L145.46,249.58 L146.00,249.58 L146.54,249.58 L147.08,249.58 L147.61,249.58 L148.15,249.58 L148.69,249.58 L149.23,249.58 L149.76,249.58 L150.30,249.58 L150.84,249.57 L151.38,249.57 L151.91,249.57 L152.45,249.57 L152.99,249.56 L153.53,249.56 L154.06,249.56 L154.60,249.55 L155.14,249.55 L155.68,249.55 L156.21,249.54 L156.75,249.54 L157.29,249.54 L157.82,249.53 L158.36,249.53 L158.90,249.52 L159.44,249.52 L159.97,249.51 L160.51,249.50 L161.05,249.50 L161.58,249.49 L162.12,249.49 L162.66,249.48 L163.19,249.47 L163.73,249.47 L164.27,249.46 L164.80,249.45 L165.34,249.45 L165.88,249.44 L166.41,249.43 L166.95,249.42 L167.49,249.42 L168.02,249.41 L168.56,249.40 L169.10,249.38 L169.63,249.36 L170.17,249.34 L170.71,249.32 L171.24,249.30 L171.78,249.27 L172.32,249.24 L172.85,249.21 L173.39,249.18 L173.93,249.14 L174.46,249.11 L175.00,249.07 L175.53,249.04 L176.07,249.00 L176.61,248.96 L177.14,248.92 L177.68,248.88 L178.21,248.84 L178.75,248.80 L179.28,248.76 L179.81,248.72 L180.35,248.67 L180.88,248.63 L181.42,248.58 L181.95,248.53 L182.48,248.47 L183.02,248.42 L183.55,248.36 L184.08,248.30 L184.62,248.23 L185.15,248.17 L185.68,248.10 L186.21,248.04 L186.74,247.97 L187.27,247.89 L187.80,247.82 L188.33,247.75 L188.86,247.67 L189.39,247.59 L189.92,247.51 L190.45,247.43 L190.97,247.34 L191.50,247.24 L192.03,247.14 L192.55,247.04 L193.07,246.93 L193.58,246.81 L194.10,246.69 L194.62,246.56 L195.13,246.42 L195.64,246.27 L196.14,246.11 L196.64,245.95 L197.13,245.77 L197.62,245.59 L198.10,245.38 L198.58,245.17 L199.04,244.93 L199.48,244.68 L199.91,244.41 L200.33,244.12 L200.73,243.81 L201.09,243.48 L201.40,243.13 L201.67,242.75 L201.92,242.35 L202.14,241.92 L202.32,241.50 L202.45,241.07 L202.56,240.64 L202.66,240.20 L202.75,239.75 L202.82,239.30 L202.89,238.86 L202.94,238.41 L203.00,237.97 L203.05,237.52 L203.10,237.08 L203.14,236.63 L203.19,236.19 L203.23,235.74 L203.26,235.29 L203.30,234.85 L203.34,234.40 L203.37,233.95 L203.41,233.50 L203.45,233.06 L203.48,232.61 L203.52,232.16 L203.56,231.72 L203.61,231.27 L203.65,230.82 L203.69,230.38 L203.74,229.93 L203.78,229.48 L203.82,229.04 L203.86,228.59 L203.91,228.15 L203.95,227.70 L203.99,227.25 L204.04,226.81 L204.08,226.36 L204.13,225.91 L204.17,225.47 L204.22,225.02 L204.27,224.58 L204.32,224.13 L204.37,223.69 L204.42,223.24 L204.48,222.80 L204.54,222.35 L204.60,221.91 L204.66,221.46 L204.73,221.02 L204.80,220.57 L204.87,220.13 L204.94,219.68 L205.01,219.24 L205.07,218.80 L205.14,218.35 L205.21,217.91 L205.27,217.46 L205.33,217.02 L205.38,216.57 L205.44,216.13 L205.48,215.68 L205.52,215.24 L205.56,214.79 L205.59,214.34 L205.62,213.89 L205.65,213.45 L205.69,213.00 L205.73,212.56 L205.79,212.11 L205.84,211.66 L205.90,211.22 L205.97,210.77 L206.04,210.33 L206.11,209.89 L206.18,209.44 L206.27,209.00 L206.35,208.56 L206.44,208.12 L206.54,207.68 L206.64,207.24 L206.74,206.80 L206.85,206.36 L206.96,205.92 L207.08,205.48 L207.20,205.05 L207.33,204.61 L207.46,204.18 L207.60,203.75 L207.74,203.31 L207.88,202.88 L208.03,202.45 L208.18,202.02 L208.34,201.60 L208.51,201.17 L208.68,200.75 L208.85,200.32 L209.03,199.90 L209.21,199.48 L209.40,199.06 L209.59,198.64 L209.79,198.22 L209.99,197.81 L210.19,197.40 L210.40,196.98 L210.62,196.57 L210.84,196.16 L211.06,195.76 L211.29,195.35 L211.52,194.95 L211.76,194.55 L212.00,194.14 L212.24,193.75 L212.49,193.35 L212.74,192.95 L213.00,192.56 L213.26,192.17 L213.52,191.78 L213.79,191.39 L214.06,191.00 L214.34,190.62 L214.62,190.24 L214.90,189.86 L215.19,189.48 L215.48,189.10 L215.77,188.72 L216.06,188.35 L216.36,187.98 L216.67,187.61 L216.97,187.24 L217.28,186.88 L217.60,186.51 L217.91,186.15 L218.23,185.79 L218.55,185.43 L218.88,185.08 L219.21,184.72 L219.54,184.37 L219.87,184.02 L220.21,183.67 L220.55,183.32 L220.89,182.98 L221.24,182.63 L221.58,182.29 L221.94,181.95 L222.29,181.62 L222.64,181.28 L223.00,180.95 L223.36,180.62 L223.73,180.29 L224.09,179.96 L224.46,179.63 L224.83,179.31 L225.20,178.99 L225.58,178.67 L225.96,178.35 L226.34,178.03 L226.72,177.72 L227.10,177.40 L227.49,177.09 L227.88,176.79 L228.27,176.48 L228.67,176.17 L229.06,175.87 L229.46,175.57 L229.86,175.27 L230.26,174.97 L230.67,174.68 L231.07,174.39 L231.48,174.10 L231.89,173.81 L232.31,173.52 L232.72,173.24 L233.14,172.96 L233.56,172.68 L233.98,172.40 L234.40,172.12 L234.83,171.85 L235.25,171.58 L235.68,171.31 L236.12,171.04 L236.55,170.78 L236.98,170.52 L237.42,170.26 L237.86,170.00 L238.30,169.74 L238.75,169.49 L239.19,169.24 L239.64,168.99 L240.09,168.75 L240.54,168.50 L240.99,168.26 L241.45,168.02 L241.90,167.79 L242.36,167.56 L242.82,167.33 L243.29,167.10 L243.75,166.87 L244.22,166.65 L244.68,166.43 L245.15,166.21 L245.62,166.00 L246.10,165.78 L246.57,165.57 L247.05,165.36 L247.52,165.16 L248.00,164.96 L248.48,164.76 L248.97,164.56 L249.45,164.36 L249.93,164.17 L250.42,163.98 L250.91,163.79 L251.39,163.60 L251.88,163.42 L252.37,163.23 L252.87,163.05 L253.36,162.88 L253.85,162.70 L254.35,162.53 L254.84,162.35 L255.34,162.18 L255.84,162.02 L256.34,161.85 L256.84,161.69 L257.34,161.53 L257.84,161.37 L258.34,161.21 L258.85,161.05 L259.35,160.90 L259.86,160.75 L260.36,160.59 L260.87,160.45 L261.38,160.30 L261.88,160.15 L262.39,160.01 L262.90,159.87 L263.41,159.73 L263.92,159.59 L264.43,159.45 L264.95,159.31 L265.46,159.18 L265.97,159.04 L266.48,158.91 L267.00,158.78 L267.51,158.65 L268.03,158.53 L268.54,158.40 L269.06,158.27 L269.57,158.15 L270.09,158.03 L270.61,157.90 L271.13,157.78 L271.64,157.66 L272.16,157.55 L272.68,157.43 L273.20,157.31 L273.72,157.20 L274.24,157.08 L274.76,156.97 L275.28,156.86 L275.80,156.74 L276.32,156.63 L276.84,156.52 L277.36,156.41 L277.88,156.31 L278.40,156.20 L278.92,156.09 L279.44,155.98 L279.97,155.88 L280.49,155.77 L281.01,155.67 L281.53,155.56 L282.06,155.46 L282.58,155.36 L283.10,155.25 L283.62,155.15 L284.15,155.05 L284.67,154.95 L285.19,154.85 L285.72,154.74 L286.24,154.64 L286.76,154.54 L287.29,154.44 L287.81,154.34 L288.33,154.24 L288.86,154.14 L289.38,154.04 L289.91,153.94 L290.43,153.84 L290.95,153.74 L291.48,153.64 L292.00,153.54" stroke="#5d9ec7"/>
</g>
<g stroke="#4c4c4c" stroke-width="1.05" fill="none">
<line x1="0.1" y1="171.45" x2="292.3" y2="171.45"/>
<line x1="146.2" y1="21.9" x2="146.2" y2="314"/>
<line x1="-0.05" y1="171.45" x2="-0.05" y2="168.85"/>
<line x1="14.55" y1="171.45" x2="14.55" y2="168.85"/>
<line x1="29.15" y1="171.45" x2="29.15" y2="167.25"/>
<line x1="43.75" y1="171.45" x2="43.75" y2="168.85"/>
<line x1="58.35" y1="171.45" x2="58.35" y2="168.85"/>
<line x1="72.95" y1="171.45" x2="72.95" y2="168.85"/>
<line x1="87.55" y1="171.45" x2="87.55" y2="167.25"/>
<line x1="102.15" y1="171.45" x2="102.15" y2="168.85"/>
<line x1="116.75" y1="171.45" x2="116.75" y2="168.85"/>
<line x1="131.35" y1="171.45" x2="131.35" y2="168.85"/>
<line x1="160.55" y1="171.45" x2="160.55" y2="168.85"/>
<line x1="175.15" y1="171.45" x2="175.15" y2="168.85"/>
<line x1="189.75" y1="171.45" x2="189.75" y2="168.85"/>
<line x1="204.35" y1="171.45" x2="204.35" y2="167.25"/>
<line x1="218.95" y1="171.45" x2="218.95" y2="168.85"/>
<line x1="233.55" y1="171.45" x2="233.55" y2="168.85"/>
<line x1="248.15" y1="171.45" x2="248.15" y2="168.85"/>
<line x1="262.75" y1="171.45" x2="262.75" y2="167.25"/>
<line x1="277.35" y1="171.45" x2="277.35" y2="168.85"/>
<line x1="291.95" y1="171.45" x2="291.95" y2="168.85"/>
<line x1="146.2" y1="306.70" x2="148.80" y2="306.70"/>
<line x1="146.2" y1="293.15" x2="148.80" y2="293.15"/>
<line x1="146.2" y1="279.60" x2="150.20" y2="279.60"/>
<line x1="146.2" y1="266.05" x2="148.80" y2="266.05"/>
<line x1="146.2" y1="252.50" x2="148.80" y2="252.50"/>
<line x1="146.2" y1="238.95" x2="148.80" y2="238.95"/>
<line x1="146.2" y1="225.40" x2="150.20" y2="225.40"/>
<line x1="146.2" y1="211.85" x2="148.80" y2="211.85"/>
<line x1="146.2" y1="198.30" x2="148.80" y2="198.30"/>
<line x1="146.2" y1="184.75" x2="148.80" y2="184.75"/>
<line x1="146.2" y1="157.65" x2="148.80" y2="157.65"/>
<line x1="146.2" y1="144.10" x2="148.80" y2="144.10"/>
<line x1="146.2" y1="130.55" x2="148.80" y2="130.55"/>
<line x1="146.2" y1="117.00" x2="150.20" y2="117.00"/>
<line x1="146.2" y1="103.45" x2="148.80" y2="103.45"/>
<line x1="146.2" y1="89.90" x2="148.80" y2="89.90"/>
<line x1="146.2" y1="76.35" x2="148.80" y2="76.35"/>
<line x1="146.2" y1="62.80" x2="150.20" y2="62.80"/>
<line x1="146.2" y1="49.25" x2="148.80" y2="49.25"/>
<line x1="146.2" y1="35.70" x2="148.80" y2="35.70"/>
<line x1="146.2" y1="22.15" x2="148.80" y2="22.15"/>
</g>
</svg>
<div class="tk" style="left:19.3px;width:20px;text-align:center;top:175.4px">−4</div>
<div class="tk" style="left:77.7px;width:20px;text-align:center;top:175.4px">−2</div>
<div class="tk" style="left:194.5px;width:20px;text-align:center;top:175.4px">2</div>
<div class="tk" style="left:252.89999999999998px;width:20px;text-align:center;top:175.4px">4</div>
<div class="tk" style="left:112.9px;width:30px;text-align:right;top:58.70px">0.4</div>
<div class="tk" style="left:112.9px;width:30px;text-align:right;top:112.90px">0.2</div>
<div class="tk" style="left:112.9px;width:30px;text-align:right;top:221.30px">−0.2</div>
<div class="tk" style="left:112.9px;width:30px;text-align:right;top:275.50px">−0.4</div>
<div class="lb" id="l0" style="left:152.20px;top:55.57px;letter-spacing:-0.12px">Re(<i>ρ</i>)=1</div>
<div class="lb" id="l1" style="left:173.30px;top:81.77px;letter-spacing:0.2px">Re(<i>ρ</i>)=0.5</div>
<div class="lb" id="l2" style="left:206.80px;top:106.57px;letter-spacing:0.18px">Re(<i>ρ</i>)=0</div>
<div class="lb" id="l3" style="left:215.10px;top:131.47px;letter-spacing:0.28px">Re(<i>ρ</i>)=−0.5</div>
<div class="lb" id="l4" style="left:229.00px;top:193.67px;letter-spacing:0px">Re(<i>ρ</i>)=−1</div>
<div class="lb" id="l5" style="left:200.70px;top:250.87px;letter-spacing:0.24px">Re(<i>ρ</i>)=−1.2</div>
<div class="lb" id="l6" style="left:166.80px;top:301.87px;letter-spacing:0.19px">Re(<i>ρ</i>)=−1.42</div>

<svg width="332" height="315" viewBox="0 0 332 315"><line x1="175.80" y1="63.00" x2="169.19" y2="65.55" stroke="#ff1010" stroke-width="0.85"/><polygon points="164.90,67.20 169.78,63.18 169.19,65.55 171.22,66.91" fill="#ff1010"/>
<line x1="198.00" y1="92.00" x2="185.17" y2="97.96" stroke="#ff1010" stroke-width="0.85"/><polygon points="181.00,99.90 185.60,95.56 185.17,97.96 187.28,99.19" fill="#ff1010"/>
<line x1="225.50" y1="117.30" x2="198.98" y2="134.13" stroke="#ff1010" stroke-width="0.85"/><polygon points="195.10,136.60 199.09,131.70 198.98,134.13 201.24,135.07" fill="#ff1010"/>
<line x1="251.20" y1="144.10" x2="253.01" y2="173.31" stroke="#ff1010" stroke-width="0.85"/><polygon points="253.30,177.90 250.93,172.04 253.01,173.31 254.92,171.79" fill="#ff1010"/>
<line x1="256.60" y1="197.20" x2="255.08" y2="191.92" stroke="#ff1010" stroke-width="0.85"/><polygon points="253.80,187.50 257.39,192.71 255.08,191.92 253.54,193.82" fill="#ff1010"/>
<line x1="230.50" y1="252.20" x2="209.78" y2="234.31" stroke="#ff1010" stroke-width="0.85"/><polygon points="206.30,231.30 212.15,233.71 209.78,234.31 209.53,236.74" fill="#ff1010"/>
<line x1="203.40" y1="306.40" x2="199.05" y2="299.49" stroke="#ff1010" stroke-width="0.85"/><polygon points="196.60,295.60 201.49,299.61 199.05,299.49 198.10,301.74" fill="#ff1010"/>
</svg>
<div class="ax" id="ylab" style="left:129.3px;top:1.5px">Re(<i>γ</i>)</div>
<div class="ax" id="xlab" style="left:300.0px;top:163.6px;letter-spacing:-0.32px">Im(<i>ρ</i>)</div>
</body></html>
